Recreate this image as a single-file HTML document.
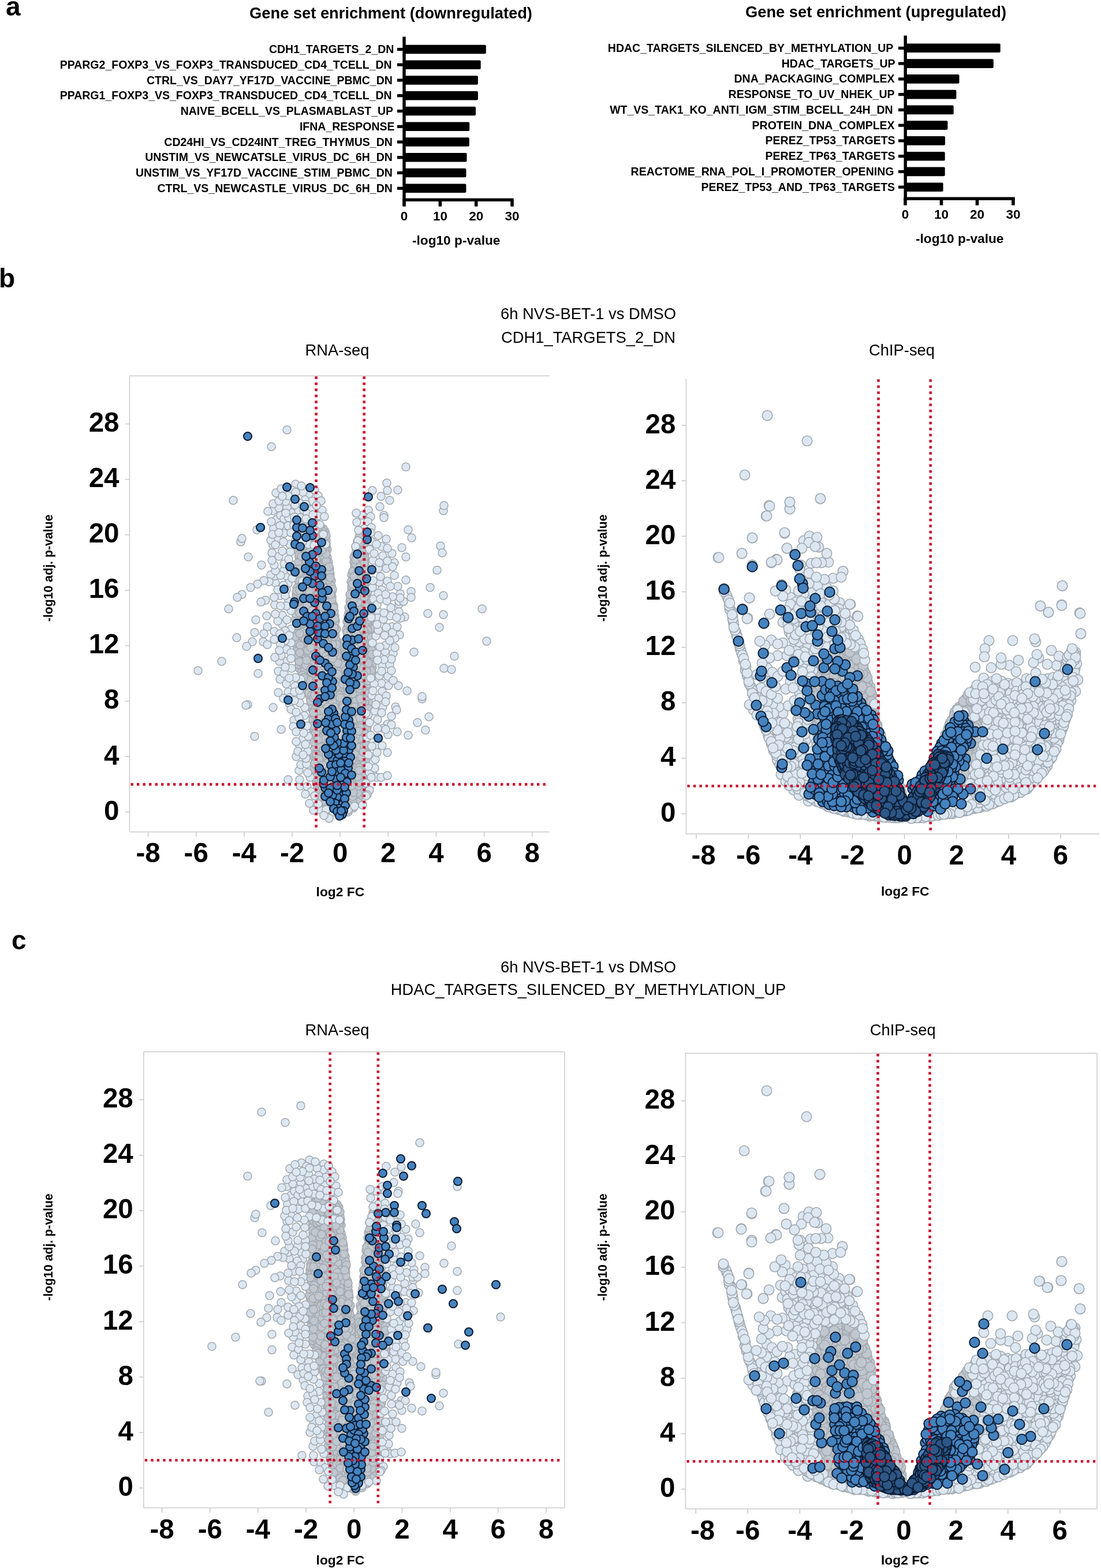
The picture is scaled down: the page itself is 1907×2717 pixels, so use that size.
<!DOCTYPE html>
<html><head><meta charset="utf-8"><title>Figure</title><style>html,body{margin:0;padding:0;background:#fff;width:1907px;height:2717px;overflow:hidden}</style></head><body>
<svg xmlns="http://www.w3.org/2000/svg" width="1907" height="2717" viewBox="0 0 1907 2717" style="display:block">
<style>
text{font-family:'Liberation Sans',Arial,sans-serif;fill:#000}
.lab{font-weight:bold;font-size:19.5px}
.tl{font-weight:bold;font-size:22.5px}
.ttl{font-weight:bold;font-size:27.3px}
.xl{font-weight:bold;font-size:22.7px}
.pl{font-weight:bold;font-size:46px}
.st{font-size:27.35px}
.vt{font-weight:bold;font-size:47.5px}
.ax{font-weight:bold;font-size:21.3px}
.ax2{font-weight:bold;font-size:22.8px}
</style>
<rect width="100%" height="100%" fill="#fff"/>
<defs>
<marker id="mLr" markerUnits="userSpaceOnUse" markerWidth="20" markerHeight="20" refX="10" refY="10" overflow="visible"><circle cx="10" cy="10" r="7" fill="#dce7f2" stroke="#a0a7ae" stroke-width="1.5"/></marker>
<marker id="mGr" markerUnits="userSpaceOnUse" markerWidth="20" markerHeight="20" refX="10" refY="10" overflow="visible"><circle cx="10" cy="10" r="7" fill="#c0c7cf" stroke="#a2a8ae" stroke-width="1.5"/></marker>
<marker id="mDr" markerUnits="userSpaceOnUse" markerWidth="20" markerHeight="20" refX="10" refY="10" overflow="visible"><circle cx="10" cy="10" r="7" fill="#4583bf" stroke="#0b1c33" stroke-width="2"/></marker>
<marker id="mNr" markerUnits="userSpaceOnUse" markerWidth="20" markerHeight="20" refX="10" refY="10" overflow="visible"><circle cx="10" cy="10" r="7" fill="#2d5786" stroke="#0b1c33" stroke-width="2"/></marker>
<marker id="mLc" markerUnits="userSpaceOnUse" markerWidth="23.4" markerHeight="23.4" refX="11.7" refY="11.7" overflow="visible"><circle cx="11.7" cy="11.7" r="8.7" fill="#dce7f2" stroke="#a0a7ae" stroke-width="1.5"/></marker>
<marker id="mGc" markerUnits="userSpaceOnUse" markerWidth="23.4" markerHeight="23.4" refX="11.7" refY="11.7" overflow="visible"><circle cx="11.7" cy="11.7" r="8.7" fill="#c0c7cf" stroke="#a2a8ae" stroke-width="1.5"/></marker>
<marker id="mDc" markerUnits="userSpaceOnUse" markerWidth="23.4" markerHeight="23.4" refX="11.7" refY="11.7" overflow="visible"><circle cx="11.7" cy="11.7" r="8.7" fill="#4583bf" stroke="#0b1c33" stroke-width="2"/></marker>
<marker id="mNc" markerUnits="userSpaceOnUse" markerWidth="23.4" markerHeight="23.4" refX="11.7" refY="11.7" overflow="visible"><circle cx="11.7" cy="11.7" r="8.7" fill="#2d5786" stroke="#0b1c33" stroke-width="2"/></marker>
</defs>
<rect x="700.0" y="77.7" width="141.8" height="15.6" rx="2" fill="#000"/>
<rect x="688.0" y="82.9" width="12.0" height="5.2" fill="#000"/>
<text x="682.3" y="92.0" text-anchor="end" class="lab">CDH1_TARGETS_2_DN</text>
<rect x="700.0" y="104.4" width="132.7" height="15.6" rx="2" fill="#000"/>
<rect x="688.0" y="109.6" width="12.0" height="5.2" fill="#000"/>
<text x="678.7" y="118.7" text-anchor="end" class="lab">PPARG2_FOXP3_VS_FOXP3_TRANSDUCED_CD4_TCELL_DN</text>
<rect x="700.0" y="131.2" width="127.9" height="15.6" rx="2" fill="#000"/>
<rect x="688.0" y="136.4" width="12.0" height="5.2" fill="#000"/>
<text x="679.9" y="145.5" text-anchor="end" class="lab">CTRL_VS_DAY7_YF17D_VACCINE_PBMC_DN</text>
<rect x="700.0" y="157.9" width="127.9" height="15.6" rx="2" fill="#000"/>
<rect x="688.0" y="163.1" width="12.0" height="5.2" fill="#000"/>
<text x="678.7" y="172.2" text-anchor="end" class="lab">PPARG1_FOXP3_VS_FOXP3_TRANSDUCED_CD4_TCELL_DN</text>
<rect x="700.0" y="184.7" width="124.0" height="15.6" rx="2" fill="#000"/>
<rect x="688.0" y="189.9" width="12.0" height="5.2" fill="#000"/>
<text x="681.1" y="199.0" text-anchor="end" class="lab">NAIVE_BCELL_VS_PLASMABLAST_UP</text>
<rect x="700.0" y="211.4" width="113.2" height="15.6" rx="2" fill="#000"/>
<rect x="688.0" y="216.7" width="12.0" height="5.2" fill="#000"/>
<text x="683.6" y="225.8" text-anchor="end" class="lab">IFNA_RESPONSE</text>
<rect x="700.0" y="238.2" width="112.8" height="15.6" rx="2" fill="#000"/>
<rect x="688.0" y="243.4" width="12.0" height="5.2" fill="#000"/>
<text x="679.9" y="252.5" text-anchor="end" class="lab">CD24HI_VS_CD24INT_TREG_THYMUS_DN</text>
<rect x="700.0" y="265.0" width="108.5" height="15.6" rx="2" fill="#000"/>
<rect x="688.0" y="270.2" width="12.0" height="5.2" fill="#000"/>
<text x="679.9" y="279.3" text-anchor="end" class="lab">UNSTIM_VS_NEWCATSLE_VIRUS_DC_6H_DN</text>
<rect x="700.0" y="291.7" width="107.4" height="15.6" rx="2" fill="#000"/>
<rect x="688.0" y="296.9" width="12.0" height="5.2" fill="#000"/>
<text x="679.9" y="306.0" text-anchor="end" class="lab">UNSTIM_VS_YF17D_VACCINE_STIM_PBMC_DN</text>
<rect x="700.0" y="318.5" width="107.4" height="15.6" rx="2" fill="#000"/>
<rect x="688.0" y="323.7" width="12.0" height="5.2" fill="#000"/>
<text x="679.9" y="332.8" text-anchor="end" class="lab">CTRL_VS_NEWCASTLE_VIRUS_DC_6H_DN</text>
<rect x="697.3" y="63.6" width="5.4" height="285.4" fill="#000"/>
<rect x="697.3" y="343.6" width="192.3" height="5.4" fill="#000"/>
<rect x="697.2" y="346.3" width="5.6" height="11.5" fill="#000"/>
<text x="700.0" y="381.6" text-anchor="middle" class="tl">0</text>
<rect x="759.6" y="346.3" width="5.6" height="11.5" fill="#000"/>
<text x="762.4" y="381.6" text-anchor="middle" class="tl">10</text>
<rect x="821.9" y="346.3" width="5.6" height="11.5" fill="#000"/>
<text x="824.7" y="381.6" text-anchor="middle" class="tl">20</text>
<rect x="884.2" y="346.3" width="5.6" height="11.5" fill="#000"/>
<text x="887.0" y="381.6" text-anchor="middle" class="tl">30</text>
<text x="677.0" y="32.3" text-anchor="middle" class="ttl">Gene set enrichment (downregulated)</text>
<text x="790.2" y="424.3" text-anchor="middle" class="xl">-log10 p-value</text>
<rect x="1568.2" y="75.5" width="164.5" height="15.6" rx="2" fill="#000"/>
<rect x="1556.0" y="80.8" width="12.2" height="5.2" fill="#000"/>
<text x="1547.3" y="89.8" text-anchor="end" class="lab">HDAC_TARGETS_SILENCED_BY_METHYLATION_UP</text>
<rect x="1568.2" y="102.3" width="152.6" height="15.6" rx="2" fill="#000"/>
<rect x="1556.0" y="107.5" width="12.2" height="5.2" fill="#000"/>
<text x="1550.6" y="116.6" text-anchor="end" class="lab">HDAC_TARGETS_UP</text>
<rect x="1568.2" y="129.1" width="93.3" height="15.6" rx="2" fill="#000"/>
<rect x="1556.0" y="134.3" width="12.2" height="5.2" fill="#000"/>
<text x="1549.6" y="143.4" text-anchor="end" class="lab">DNA_PACKAGING_COMPLEX</text>
<rect x="1568.2" y="155.8" width="88.2" height="15.6" rx="2" fill="#000"/>
<rect x="1556.0" y="161.0" width="12.2" height="5.2" fill="#000"/>
<text x="1549.5" y="170.1" text-anchor="end" class="lab">RESPONSE_TO_UV_NHEK_UP</text>
<rect x="1568.2" y="182.6" width="83.5" height="15.6" rx="2" fill="#000"/>
<rect x="1556.0" y="187.8" width="12.2" height="5.2" fill="#000"/>
<text x="1546.7" y="196.9" text-anchor="end" class="lab">WT_VS_TAK1_KO_ANTI_IGM_STIM_BCELL_24H_DN</text>
<rect x="1568.2" y="209.3" width="73.2" height="15.6" rx="2" fill="#000"/>
<rect x="1556.0" y="214.6" width="12.2" height="5.2" fill="#000"/>
<text x="1549.6" y="223.7" text-anchor="end" class="lab">PROTEIN_DNA_COMPLEX</text>
<rect x="1568.2" y="236.1" width="68.8" height="15.6" rx="2" fill="#000"/>
<rect x="1556.0" y="241.3" width="12.2" height="5.2" fill="#000"/>
<text x="1550.6" y="250.4" text-anchor="end" class="lab">PEREZ_TP53_TARGETS</text>
<rect x="1568.2" y="262.9" width="68.5" height="15.6" rx="2" fill="#000"/>
<rect x="1556.0" y="268.1" width="12.2" height="5.2" fill="#000"/>
<text x="1550.6" y="277.2" text-anchor="end" class="lab">PEREZ_TP63_TARGETS</text>
<rect x="1568.2" y="289.6" width="68.5" height="15.6" rx="2" fill="#000"/>
<rect x="1556.0" y="294.8" width="12.2" height="5.2" fill="#000"/>
<text x="1548.4" y="303.9" text-anchor="end" class="lab">REACTOME_RNA_POL_I_PROMOTER_OPENING</text>
<rect x="1568.2" y="316.4" width="65.4" height="15.6" rx="2" fill="#000"/>
<rect x="1556.0" y="321.6" width="12.2" height="5.2" fill="#000"/>
<text x="1550.1" y="330.7" text-anchor="end" class="lab">PEREZ_TP53_AND_TP63_TARGETS</text>
<rect x="1565.5" y="61.6" width="5.4" height="285.3" fill="#000"/>
<rect x="1565.5" y="341.5" width="192.2" height="5.4" fill="#000"/>
<rect x="1565.2" y="344.2" width="5.6" height="11.5" fill="#000"/>
<text x="1568.0" y="379.1" text-anchor="middle" class="tl">0</text>
<rect x="1627.7" y="344.2" width="5.6" height="11.5" fill="#000"/>
<text x="1630.5" y="379.1" text-anchor="middle" class="tl">10</text>
<rect x="1689.7" y="344.2" width="5.6" height="11.5" fill="#000"/>
<text x="1692.5" y="379.1" text-anchor="middle" class="tl">20</text>
<rect x="1752.1" y="344.2" width="5.6" height="11.5" fill="#000"/>
<text x="1754.9" y="379.1" text-anchor="middle" class="tl">30</text>
<text x="1517.0" y="29.8" text-anchor="middle" class="ttl">Gene set enrichment (upregulated)</text>
<text x="1662.2" y="421.0" text-anchor="middle" class="xl">-log10 p-value</text>
<text x="10" y="27" class="pl">a</text>
<text x="-2" y="498" class="pl">b</text>
<text x="20" y="1644.5" class="pl">c</text>
<text x="1019" y="552.9" text-anchor="middle" class="st">6h NVS-BET-1 vs DMSO</text>
<text x="1019" y="593.8" text-anchor="middle" class="st">CDH1_TARGETS_2_DN</text>
<text x="1019" y="1684.7" text-anchor="middle" class="st">6h NVS-BET-1 vs DMSO</text>
<text x="1019" y="1723.8" text-anchor="middle" class="st">HDAC_TARGETS_SILENCED_BY_METHYLATION_UP</text>
<line x1="224.5" y1="651.3" x2="224.5" y2="1441.4" stroke="#d6d6d6" stroke-width="2"/>
<line x1="224.5" y1="1441.4" x2="951.8" y2="1441.4" stroke="#d6d6d6" stroke-width="2"/>
<line x1="224.5" y1="651.3" x2="951.8" y2="651.3" stroke="#d6d6d6" stroke-width="2"/>
<line x1="216.5" y1="1407.1" x2="224.5" y2="1407.1" stroke="#c8c8c8" stroke-width="1.5"/>
<text x="206.5" y="1420.6" text-anchor="end" class="vt">0</text>
<line x1="216.5" y1="1311.0" x2="224.5" y2="1311.0" stroke="#c8c8c8" stroke-width="1.5"/>
<text x="206.5" y="1324.5" text-anchor="end" class="vt">4</text>
<line x1="216.5" y1="1214.9" x2="224.5" y2="1214.9" stroke="#c8c8c8" stroke-width="1.5"/>
<text x="206.5" y="1228.4" text-anchor="end" class="vt">8</text>
<line x1="216.5" y1="1118.9" x2="224.5" y2="1118.9" stroke="#c8c8c8" stroke-width="1.5"/>
<text x="206.5" y="1132.4" text-anchor="end" class="vt">12</text>
<line x1="216.5" y1="1022.8" x2="224.5" y2="1022.8" stroke="#c8c8c8" stroke-width="1.5"/>
<text x="206.5" y="1036.3" text-anchor="end" class="vt">16</text>
<line x1="216.5" y1="926.7" x2="224.5" y2="926.7" stroke="#c8c8c8" stroke-width="1.5"/>
<text x="206.5" y="940.2" text-anchor="end" class="vt">20</text>
<line x1="216.5" y1="830.6" x2="224.5" y2="830.6" stroke="#c8c8c8" stroke-width="1.5"/>
<text x="206.5" y="844.1" text-anchor="end" class="vt">24</text>
<line x1="216.5" y1="734.5" x2="224.5" y2="734.5" stroke="#c8c8c8" stroke-width="1.5"/>
<text x="206.5" y="748.0" text-anchor="end" class="vt">28</text>
<line x1="256.6" y1="1441.4" x2="256.6" y2="1449.9" stroke="#c8c8c8" stroke-width="1.5"/>
<text x="256.6" y="1494.4" text-anchor="middle" class="vt">-8</text>
<line x1="339.7" y1="1441.4" x2="339.7" y2="1449.9" stroke="#c8c8c8" stroke-width="1.5"/>
<text x="339.7" y="1494.4" text-anchor="middle" class="vt">-6</text>
<line x1="422.9" y1="1441.4" x2="422.9" y2="1449.9" stroke="#c8c8c8" stroke-width="1.5"/>
<text x="422.9" y="1494.4" text-anchor="middle" class="vt">-4</text>
<line x1="506.0" y1="1441.4" x2="506.0" y2="1449.9" stroke="#c8c8c8" stroke-width="1.5"/>
<text x="506.0" y="1494.4" text-anchor="middle" class="vt">-2</text>
<line x1="589.1" y1="1441.4" x2="589.1" y2="1449.9" stroke="#c8c8c8" stroke-width="1.5"/>
<text x="589.1" y="1494.4" text-anchor="middle" class="vt">0</text>
<line x1="672.3" y1="1441.4" x2="672.3" y2="1449.9" stroke="#c8c8c8" stroke-width="1.5"/>
<text x="672.3" y="1494.4" text-anchor="middle" class="vt">2</text>
<line x1="755.4" y1="1441.4" x2="755.4" y2="1449.9" stroke="#c8c8c8" stroke-width="1.5"/>
<text x="755.4" y="1494.4" text-anchor="middle" class="vt">4</text>
<line x1="838.6" y1="1441.4" x2="838.6" y2="1449.9" stroke="#c8c8c8" stroke-width="1.5"/>
<text x="838.6" y="1494.4" text-anchor="middle" class="vt">6</text>
<line x1="921.7" y1="1441.4" x2="921.7" y2="1449.9" stroke="#c8c8c8" stroke-width="1.5"/>
<text x="921.7" y="1494.4" text-anchor="middle" class="vt">8</text>
<text transform="translate(90.7,984.4) rotate(-90)" text-anchor="middle" class="ax">-log10 adj. p-value</text>
<text x="589.4" y="1552.6" text-anchor="middle" class="ax2">log2 FC</text>
<text x="584" y="615.7" text-anchor="middle" class="st">RNA-seq</text>
<path d="M560 1356 609 1142 528 1043 523 1157 541 1145 533 1171 627 1171 644 1109 578 1272 569 1069 622 1064 527 1067 552 1082 629 1367 612 1159 600 1108 634 1336 552 983 621 1118 584 1111 541 1064 618 1316 631 1221 562 939 623 995 607 1046 613 1128 622 1230 580 1113 567 1174 543 904 535 1080 575 1067 513 1057 619 981 577 1063 558 1235 524 1089 558 1371 581 1404 631 1282 557 1258 624 1060 564 1129 580 1298 541 1230 589 1294 577 1126 549 1295 572 1072 560 927 565 1395 633 1061 621 1200 562 1348 550 1044 545 1343 633 1311 557 1014 543 944 555 977 617 1182 532 1071 571 1021 607 1321 549 922 569 1156 581 1340 575 1266 580 1239 555 1194 537 920 627 1101 564 1009 624 1300 626 1222 598 1352 619 1211 637 1139 639 1163 555 1177 520 926 603 1125 519 978 627 1010 554 1189 584 1299 604 1062 634 1145 562 1150 531 1149 635 1197 525 1178 618 1233 595 1309 630 1235 539 935 540 1026 605 1283 585 1303 566 979 544 1077 526 1139 596 1322 548 1159 609 1395 598 1341 611 1137 557 967 519 1028 571 1274 555 1055 548 1264 562 1085 553 1002 586 1402 609 1246 569 1012 572 1202 568 1326 611 1308 629 1231 514 1118 528 1088 607 1173 609 996 584 1235 541 1226 643 1186 602 1233 582 1171 592 1393 624 1308 581 1100 532 1084 627 952 605 1391 545 1081 546 1154 612 1181 513 1029 513 1034 553 1206 560 1389 548 1190 636 1155 630 1120 613 1152 589 1394 524 1045 601 1238 596 1407 590 1402 567 1105 614 1057 616 1220 634 1017 603 1161 615 1210 624 1020 605 1099 543 1179 566 1094 606 1261 579 1348 614 1296 625 1048 602 1087 544 926 597 1262 578 1153 522 1065 609 1312 586 1323 637 1034 556 1323 629 1263 559 944 577 1393 636 1066 616 1080 551 1287 560 1375 558 1123 585 1154 518 1014 618 1261 562 1210 523 921 611 1327 615 1344 625 987 616 1382 528 1006 556 1385 622 1223 562 1177 602 1209 614 1075 645 1157 565 1028 530 1037 563 1277 552 1350 589 1236 627 1330 560 949 627 1153 580 1067 619 1135 559 1310 637 1250 593 1210 567 966 561 1062 543 1000 617 1324 632 1307 602 1348 644 1147 552 1123 630 947 593 1319 538 907 603 1278 584 1141 567 952 573 1399 625 1139 594 1201 557 1065 530 910 620 1207 531 903 618 1167 531 1131 530 1079 620 957 624 958 604 1152 580 1229 563 1124 522 1013 526 1058 604 1091 569 1056 581 1107 563 1000 571 1386 522 1008 573 1134 532 977 574 1320 559 997 589 1214 554 970 584 1370 585 1273 554 1360 634 1087 576 1310 551 1331 642 1122 626 1284 524 913 516 947 600 1258 590 1254 636 1273 608 1349 621 1157 546 937 611 1214 625 972 518 1010 569 1264 525 971 569 1063 616 1199 631 1125 548 1183 633 1151 598 1157 571 1351 547 1025 526 927 582 1196 599 1246 561 1361 581 1209 550 1113 624 1148 577 1254 539 1107 589 1314 632 960 543 1138 552 1058 517 1043 533 959 516 1066 521 1142 640 1144 635 1170 567 1122 539 960 590 1372 562 984 571 1085 576 1365 613 974 543 1160 557 987 522 1080 598 1229 633 1174 640 1159 598 1141 550 928 628 1115 578 1049 606 1185 547 1130 517 936 625 1276 546 1303 563 921 609 1344 571 1232 555 1354 604 1403 592 1413 548 1357 569 1251 521 1002 573 1375 611 1082 602 1272 555 1068 541 1183 637 1096 563 1206 628 1017 605 1335 518 1036 601 1314 595 1163 624 1341 599 1214 610 1333 611 1100 536 1185 612 1321 551 1223 610 1105 547 1248 621 977 622 934 543 1281 567 1047 539 1194 633 981 629 1148 643 1140 624 1043 566 1015 545 1021 584 1214 516 1094 561 1117 587 1337 571 986 594 1326 527 992 523 954 559 1197 537 1142 587 1286 621 1379 555 1340 635 1123 570 1344 639 1135 544 1174 544 974 612 1384 592 1310 598 1318 542 1251 625 1207 609 1150 591 1379 550 1363 518 997 633 1027 615 1392 525 1101 553 1367 628 1045 568 1399 536 986 547 1337 637 1118 578 1176 605 1311 547 1086 628 1192 589 1349 614 1133 567 1335 600 1172 619 964 538 1210 542 1242 638 1048 540 1188 612 1003 560 1319 535 951 607 1385 564 1242 514 1019 570 1147 551 1342 631 1179 586 1361 557 1348 574 1260 630 1076 608 1008 593 1276 560 916 557 1113 566 1362 577 1210 557 1059 598 1147 617 1130 577 1204 616 1228 597 1392 617 1191 616 1141 616 1350 611 1268 616 1335 566 1168 567 1210 534 991 560 1068 543 1105 519 1159 549 1077 553 1050 563 1024 562 968 582 1252 591 1283 582 1334 524 1075 623 1122 547 1069 539 1035 525 1018 591 1341 624 946 562 1048 580 1328 609 1023 558 1276 561 1182 518 965 578 1148 532 1096 563 1290 633 1190 579 1316 642 1094 585 1175 513 1088 549 1242 621 1326 601 1129 579 1320 541 948 579 1121 594 1195 555 1035 538 965 556 935 572 1237 533 1009 623 1113 607 1135 554 1136 641 1076 598 1194 532 1042 644 1179 519 919 587 1159 546 1125 559 1352 565 1164 583 1243 549 1022 559 1079 528 999 630 1022 545 996 571 1037 560 1231 543 913 536 1067 518 1152 531 1140 590 1279 558 1143 627 976 541 1124 565 946 611 1042 540 1077 638 1107 605 1109 551 1371 524 1130 580 1377 618 1084 530 1195 546 948 585 1126 579 1278 596 1313 588 1355 568 1312 520 1019 604 1296 556 1287 606 1077 535 1137 631 1275 630 1340 571 1303 575 1325 553 1143 620 969 600 1091 572 1390 557 1097 538 1169 567 1021 524 1120 535 938 634 1303 603 1147 619 1289 542 1247 606 1369 535 1164 519 952 557 1313 558 972 634 1032 605 1169 546 1290 523 1112 621 1010 610 1367 627 1096 528 923 513 1078 600 1363 531 936 622 1304 641 1101 631 1200 525 1039 555 1018 533 942 636 1269 542 1012 526 1082 520 971 605 1315 578 1243 629 1050 583 1117 609 1053 627 1335 625 1037 528 932 546 1017 543 1268 577 1382 574 1250 567 1239 632 1254 596 1359 528 900 632 1158 521 1137 531 994 645 1151 554 1212 614 1195 563 1145 525 1151 611 1209 521 1070 627 1164 624 1128 552 1299 632 1183 580 1353 620 1090 582 1160 565 1329 640 1084 539 1111 600 1116 562 1202 525 1062 619 938 572 1309 515 1141 621 1350 619 1368 593 1291 626 1354 555 1127 617 1048 528 1047 528 1095 612 1239 540 1199 615 1376 617 952 535 1117 573 1362 528 980 629 1137 600 1388 585 1315 626 1004 598 1293 614 981 554 1306 608 1205 602 1264 564 1340 567 1234 588 1244 621 1103 603 1385 641 1069 630 1316 542 1031 633 1055 546 1278 633 1108 629 1030 570 1340 618 1282 541 1017 556 1118 605 1381 566 1275 600 1332 557 1270 629 1087 563 1294 528 917 533 924 633 1331 523 902 625 1105 563 952 603 1072 635 1244 574 1331 627 1320 636 1012 600 1184 593 1253 602 1102 574 1185 523 907 617 1147 615 1205 575 1107 576 1222 624 1178 565 942 632 1350 586 1193 623 1168 630 1245 584 1284 612 1068 625 1077 597 1272 543 953 552 1006 595 1169 614 1313 557 931 627 1272 533 1180 618 1354 617 1114 515 1122 525 1145 574 1149 630 1104 620 1107 642 1089 540 1082 554 1374 608 1289 595 1365 628 981 534 1034 631 1013 579 1096 622 1152 594 1190 594 1175 573 1079 599 1396 564 1315 629 968 534 1089 626 1055 606 1211 551 1232 588 1197 605 1250 596 1130 572 1060 633 1298 528 1116 622 952 617 1026 612 1289 558 1135 605 1267 527 1011 537 946 634 1203 556 1093 636 1260 541 939 571 1212 518 1108 581 1309 640 1172 584 1348 639 1131 598 1125 559 1039 633 1139 628 1359 634 1070 548 1253 593 1261 637 1040 558 1158 523 980 570 1042 618 1298 631 941 536 931 629 1205 627 1373 549 1102 615 1015 531 963 643 1118 529 1103 562 1056 541 993 601 1308 614 986 613 1176 555 927 551 1130 573 1053 597 1112 559 1344 520 1103 575 1229 626 1378 553 1101 625 1316 571 1180 575 1044 533 1122 538 1030 634 993 607 1275 577 1171 609 1226 522 985 514 1038 548 1207 568 1133 593 1370 640 1155 553 1266 528 1122 557 940 605 1115 583 1200 598 1198 555 1023 566 1255 565 1352 566 1051 627 1295 569 1281 610 1354 636 1083 523 990 621 1215 561 1172 620 1054 583 1355 584 1131 584 1224 538 1128 624 1369 627 1064 562 1092 581 1269 605 1221 607 1145 571 1104 546 1318 577 1389 621 1384 533 982 587 1183 529 1135 534 1014 544 1273 549 1118 580 1360 551 1270 569 1098 621 1163 572 995 618 1067 555 1226 537 1174 538 915 598 1374 542 1118 616 977 528 967 531 1056 594 1304 627 1253 580 1288 639 1126 642 1193 618 1340 543 1218 568 1348 610 1285 609 1302 584 1391 516 1052 595 1153 550 1218 531 1052 613 1117 620 1390 604 1256 629 1187 543 1262 548 1005 581 1076 609 1264 616 1272 574 1093 569 1151 595 1181 545 1239 530 1062 610 1123 600 1168 553 1173 527 959 525 1028 601 1220 548 1145 547 1258 569 1365 609 1255 578 1407 591 1306 574 1006 560 1332 543 1214 630 1040 542 1086 645 1166 644 1170 612 1275 593 1332 544 969 615 1110 559 1028 523 999 544 1312 623 1173 581 1181 545 1298 613 1170 520 1051 591 1328 581 1165 551 909 611 1063 547 1060 597 1204 555 915 619 1123 593 1299 556 1254 560 1109 633 1345 551 1197 620 1006 633 1047 584 1408 569 1027 555 998 543 1073 544 1286 607 1217 575 1025 564 1230 590 1258 575 1056 528 1183 554 1045 599 1286 591 1269 567 990 587 1164 560 1219 620 1029 569 1375 614 1051 629 1059 575 1034 549 1056 638 1191 617 1032 607 1233 637 1111 574 1015 605 1242 590 1319 573 1125 593 1268 555 1332 634 1326 552 1148 527 1033 610 1072 548 1353 576 1076 583 1189 634 1239 588 1222 606 1375 560 1139 619 997 524 975 620 1308 530 953 628 1000 621 1081 517 956 636 1235 559 1336 599 1241 542 1045 519 944 632 1322 616 1302 583 1261 553 945 564 1080 567 1089 640 1063 519 1125 607 1177 559 1366 542 1258 548 959 537 976 542 958 544 1307 575 1289 608 1157 553 1064 629 994 625 1202 533 1030 561 1017 643 1162 574 1276 516 975 566 1218 615 1267 630 955 612 1400 613 965 626 1363 595 1249 606 1238 620 1374 543 986 584 1135 552 941 616 959 558 1263 524 1107 564 1034 538 1073 601 1096 603 1156 577 1198 571 1294 622 1322 559 992 618 1174 614 1358 610 1031 627 1176 560 1247 626 1289 574 1405 633 971 625 1234 628 1241 613 1363 582 1324 607 1198 582 1205 553 961 615 1331 605 1364 617 1239 606 1042 515 1047 574 1380 631 1212 580 1081 534 1063 558 920 562 1225 589 1388 545 1094 529 1108 554 957 636 1213 621 1272 551 1169 523 1164 626 1158 583 1279 562 1286 576 1401 638 1185 608 1128 600 1281 553 1250 591 1324 572 1119 567 1111 585 1377 632 966 623 1143 523 942 548 1090 548 1314 560 978 630 1258 636 1221 598 1120 573 1163 565 1322 559 1130 580 1218 591 1361 597 1368 548 1064 611 1110 571 1113 610 1221 552 966 539 927 615 1008 553 1320 616 1103 611 1390 558 962 594 1233 619 1312 568 1075 575 1112 532 920 562 1005 595 1286 575 1340 584 1290 533 1113 579 1282 528 1128 587 1249 639 1217 633 1226 530 1018 534 1076 550 1037 608 1067 595 1388 561 1379 598 1401 579 1293 568 1245 520 1085 586 1257 632 1007 540 970 570 1216 552 1277 512 1109 577 1137 598 1346 543 1150 639 1054 532 1000 551 933 543 1195 574 1154 611 1251 533 1190 577 1190 525 1071 625 1238 634 1022 603 1180 557 1002 542 963 576 1344 546 1035 635 1160 516 1004 566 1203 544 1223 602 1194 598 1188 549 954 625 1072 546 990 573 1246 553 1088 627 1082 637 1078 588 1205 569 974 632 1216 581 1399 564 1259 632 1081 578 1161 604 1141 633 1114 518 961 603 1120 537 1096 565 936 566 1179 553 922 610 1077 600 1225 527 1166 612 1028 548 1097 579 1059 578 1103 584 1343 615 1250 615 1162 569 1221 642 1113 518 1146 625 1014 605 1307 558 1148 615 1306 550 1152 601 1077 580 1303 536 1206 539 1221 540 980 567 1188 565 986 638 1149 621 1074 546 1347 630 1068 634 1317 563 1237 573 1271 621 1237 578 1259 588 1366 586 1330 556 982 602 1370 623 1085 565 972 559 1046 531 930 550 1106 565 1357 547 942 625 1346 599 1304 552 1237 535 1019 560 957 563 994 535 1201 600 1325 609 1193 519 1091 580 1132 572 1356 603 1289 624 1024 531 1092 599 1133 587 1230 605 1227 574 1284 597 1380 513 1098 632 1286 625 1183 591 1333 583 1381 573 1169 602 1321 619 1187 532 1160 573 1242 514 1128 628 1109 633 1130 609 1114 576 1216 561 932 553 994 577 1233 615 1255 559 1240 558 1205 615 1216 610 1091 576 1165 576 1117 644 1127 556 1200 622 1099 557 1182 544 1333 563 1191 585 1397 586 1311 628 1196 559 1293 613 1046 635 1264 604 1396 613 1147 564 1071 546 1229 616 992 537 956 621 1295 592 1400 538 1049 583 1090 564 1155 554 1294 622 1280 567 1184 580 1248 536 1147 564 1367 552 1202 620 1036 537 901 584 1385 551 1030 547 1049 568 1081 602 1377 620 1095 547 1270 515 1084 552 1255 603 1352 569 1005 600 1357 608 1096 635 1164 616 1276 622 1000 637 1207 565 960 589 1408 552 1180 610 1295 594 1185 538 1215 577 1335 572 1139 628 932 551 1260 546 931 528 1160 530 1187 575 1100 530 1176 597 1208 609 1339 567 1225 550 1214 526 1053 595 1218 597 1177 569 1127 596 1238 572 1207 624 981 595 1280 625 1247 520 914 540 1205 566 1040 565 1137 603 1215 572 1089 602 1176 622 1257 552 989 568 996 594 1355 571 1049 548 1139 530 972 595 1350 556 1152 616 970 585 1168 633 1135 570 1329 617 1002 555 1231 607 1038 528 1024 547 965 524 1126 576 1021 637 1092 567 1143 538 1179 554 1156 563 1272 601 1336 562 1096 621 1362 569 1369 533 915 575 1039 629 1344 519 1074 635 1051 512 1073 602 1253 518 1079 542 1155 632 1249 517 1115 604 1053 585 1149 536 1004 623 1193 611 990 605 1328 545 1110 620 989 563 1264 566 1267 551 950 576 1141 612 1261 570 1256 567 1085 557 1074 628 937 626 1325 552 1326 580 1264 538 1008 617 1062 565 1382 630 1326 610 1317 623 1032 544 1114 543 920 537 996 614 1225 626 1312 558 1163 515 1134 614 1165 520 1056 594 1376 545 1039 523 1096 562 1385 579 1370 512 1063 626 1226 606 1357 558 1008 562 1159 543 1209 564 1304 549 975 624 1188 522 934 603 1067 555 1110 512 1103 611 1380 571 991 621 1016 529 986 591 1289 548 1308 536 1104 644 1134 633 1097 621 943 596 1384 628 963 546 917 539 1022 551 1093 609 1016 602 1137 548 1134 612 1373 555 1028 522 964 534 910 610 1057 539 1132 635 1231 622 1251 613 999 550 1015 579 1225 626 1119 635 1103 527 904 565 1390 519 1062 538 1088 541 1069 610 1164 617 1246 528 1075 568 1117 638 1059 602 1301 538 1151 627 1217 603 1203 560 1187 538 990 548 969 521 1032 629 987 630 1169 635 1279 560 1034 622 930 631 1355 575 1304 559 1303 518 986 533 968 545 1009 614 1284 600 1269 557 1168 585 1264 577 1357 548 1235 554 1078 536 1025 525 948 566 1299 520 1118 623 1244 548 1175 569 1198 524 1170 574 1370 622 1356 595 1337 550 998 609 1362 543 1099 554 1381 574 1130 608 1280 599 1161 562 1042 624 1211 605 1131 533 1127 631 1293 589 1209 573 1158 591 1301 624 965 591 1262 563 1113 575 1297 624 1068 611 1202 635 1291 519 1131 629 1303 517 993 625 1265 624 1261 565 1372 537 1042 570 982 573 1192 630 1269 565 1099 630 1092 554 1219 570 1393 614 1122 546 1199 555 1245 593 1344 634 988 556 1280 628 1133 573 1176 578 1053 613 1233 572 1001 573 1030 637 1074 575 1350 590 1383 620 1044 614 1021 553 1115 629 1142 595 1225 565 1060 550 1072 526 1174 631 1035 552 1315 610 1012 617 1153 548 1327 638 1228 545 1323 613 1038 543 1235 559 1103 544 1187 555 1041 643 1104 604 1083 563 1281 552 1336 597 1298 539 1102 568 1160 630 1072 622 1330 560 1299 603 1198 565 1066 561 1251 610 1189 514 1024 535 1156 529 945 569 1285 616 947 558 953 577 1374 579 1088 570 1299 536 1054 547 1171 606 1030 559 1215 637 1025 624 1089 637 1180 569 1165 536 1059 624 1134 576 1180 546 980 557 1087 620 1346 546 910 548 905 543 1167 565 928 513 1043 545 1205 613 1094 617 1098 569 1290 551 1163 604 1342 624 940 580 1072 603 1407 579 1185 532 1048 612 1086 582 1367 566 1195 530 1153 607 1087 554 1185 622 1335 544 1052 634 1001 559 1052 539 1164 602 1189 594 1243 569 1318 559 1326 621 1267 546 1164 589 1274 565 1309 538 1122 531 1144 553 1011 527 940 517 930 539 1159 551 914 542 1091 551 1282 599 1276 541 1004 575 1314 519 1023 639 1201 619 1023 631 976 541 1058 519 1098" fill="none" stroke="none" marker-start="url(#mGr)" marker-mid="url(#mGr)" marker-end="url(#mGr)"/>
<path d="M479 900 489 1066 512 937 496 998 497 844 655 1060 636 1278 499 911 540 868 520 1362 504 1090 485 1032 640 952 485 1104 701 1069 681 1132 703 1005 757 988 654 1071 558 884 653 1132 537 846 631 916 640 1369 473 945 486 893 705 1197 473 885 694 1071 477 1010 660 860 480 935 627 893 475 998 688 1268 501 1219 651 1102 683 997 712 1025 723 1252 678 1241 478 854 419 1030 672 1273 650 1292 460 1040 554 941 485 1177 503 956 685 1225 525 1280 495 1146 661 947 535 856 516 886 677 1053 553 1403 663 963 656 1279 499 1011 527 1240 525 853 533 1302 638 1238 475 1108 504 888 577 1407 527 1035 645 1018 483 880 504 1058 671 1007 661 1184 843 1111 511 1189 474 916 545 849 484 1146 683 975 662 1292 693 1029 443 1074 519 1292 646 1342 565 1403 570 1418 564 943 520 897 620 937 763 946 603 1403 509 1248 482 1163 509 910 518 1335 665 893 664 1073 662 1153 504 1114 528 866 712 1035 534 943 500 1042 534 1276 528 1226 489 1082 646 971 657 1009 492 988 521 1205 496 1185 647 1038 663 1225 469 996 658 878 648 1185 441 1096 689 849 696 949 551 859 491 1014 512 839 532 1363 492 1167 676 1067 769 1158 657 1171 497 1074 466 1008 497 879 731 1211 543 1404 669 934 640 1339 662 1198 507 850 469 936 429 1221 494 1093 691 1047 667 1129 670 837 487 847 519 1351 640 1252 492 924 492 899 476 1048 642 1175 761 1087 521 1177 521 1325 645 1114 531 1324 717 1130 665 897 679 1086 768 885 492 977 659 999 485 911 499 1199 665 1062 512 1174 689 1016 671 1255 661 1022 463 1086 502 943 560 926 537 1347 668 1118 518 1244 496 1125 638 884 505 1158 445 918 457 1006 703 809 453 979 494 1110 648 959 655 1028 649 1232 504 1131 410 1105 491 1210 654 1247 664 1262 644 1205 675 1152 656 1210 643 938 551 1393 554 909 473 873 684 1122 655 985 628 1395 655 1092 692 1100 495 869 481 1076 561 1413 745 1018 502 1209 508 1259 703 965 655 928 684 1106 530 1314 500 897 551 894 462 1067 539 1372 524 1007 447 1140 506 1002 511 865 470 774 678 1256 658 1121 526 884 496 1050 741 1063 687 1230 707 1274 642 895 411 1035 673 1188 536 1392 483 868 672 1172 691 1042 472 926 690 1188 343 1162 679 959 513 1311 652 943 675 867 486 1117 473 1226 676 1016 510 896 496 1022 669 1087 494 1156 495 889 470 904 510 1199 699 1042 737 1265 768 1065 441 1276 512 853 669 1206 475 1094 536 923 483 964 731 1207 544 945 650 1316 519 1196 456 1112 766 958 638 1308 681 1179 636 1377 678 1142 504 1229 644 1293 680 1096 668 1264 657 975 487 1136 516 1302 384 1146 671 850 652 1347 504 978 743 1242 499 859 665 1143 651 1221 617 889 556 868 501 1101 513 1268 437 1112 645 850 653 1082 499 1351 634 1236 486 997 769 876 429 756 653 1048 489 955 618 905 643 1347 504 923 659 1038 487 1264 519 1218 668 1216 500 969 463 1117 545 1379 540 901 477 1064 484 1127 688 1086 476 1139 532 1258 835 1055 526 919 529 1376 642 1274 446 1012 671 972 477 989 477 944 539 883 491 939 464 886 457 1098 417 939 533 1339 644 989 654 1262 489 860 516 917 504 1141 782 1160 526 1270 693 1036 646 1197 520 872 616 947 530 874 494 1032 637 904 661 1235 675 1110 529 1290 614 1397 621 919 680 1034 430 965 646 1006 525 1308 532 890 654 1144 660 1347 671 950 511 875 634 1379 485 1098 643 914 521 1254 482 1200 452 1043 524 939 471 958 475 979 501 1175 427 1120 546 919 510 1214 504 989 497 745 691 1060 530 899 642 923 513 1285 669 985 513 1234 671 1344 713 932 687 1070 671 1304 649 1331 426 1222 661 1163 447 1167 396 1055 471 971 678 1162 452 914 475 1035 483 923 638 1328 522 842 670 1041 542 892 768 1032 562 895 404 867 668 1030 481 1022 666 1101 787 1137 486 1050 434 1018 548 876 634 1357 419 933 707 918 653 1304 643 1070 680 982" fill="none" stroke="none" marker-start="url(#mLr)" marker-mid="url(#mLr)" marker-end="url(#mLr)"/>
<path d="M610 1050 571 1081 576 1364 547 1137 545 998 613 1059 604 1300 557 987 581 1349 576 1315 576 1181 593 1352 541 928 451 914 550 1107 563 1196 595 1329 514 1080 541 906 636 935 541 1011 616 1186 569 1245 578 1371 550 954 566 1266 610 1109 601 1266 622 989 514 929 578 1236 619 1171 526 1059 492 1021 563 1365 603 1289 601 1107 537 919 541 961 584 1318 603 1331 598 1310 607 1141 447 1141 621 1107 511 991 573 1063 537 1094 601 1355 575 1229 623 1020 572 1366 547 1063 610 1089 532 1068 524 1188 572 1204 601 1118 590 1390 557 998 536 974 636 922 635 1003 569 1307 573 1326 560 1358 537 845 609 1267 537 1081 497 844 593 1374 587 1307 576 1130 563 1149 598 1177 595 1300 584 1381 604 1248 598 1242 597 1255 582 1300 619 1085 561 1352 595 1288 563 1380 560 1115 521 1255 489 1106 552 1096 558 1171 582 1325 600 1374 541 1068 626 1232 566 1050 499 1213 581 1392 530 964 588 1366 584 1337 510 1043 526 1076 537 990 582 1266 564 1297 604 1072 530 931 606 1257 429 756 526 1037 527 878 532 1007 619 960 568 1023 584 1287 615 1029 558 1037 606 1183 569 1174 554 1072 572 1346 554 1211 623 1076 601 1215 576 1378 511 943 594 1393 575 1255 609 1292 606 1068 638 861 597 1384 564 1252 557 940 569 1156 502 982 587 1401 591 1334 598 1340 524 1017 644 1054 607 1312 550 1085 547 981 542 1189 569 1122 545 1044 632 1024 597 1319 554 1144 598 1396 612 1156 581 1245 600 1137 578 1401 575 1164 609 1124 550 1217 569 1374 584 1252 604 1322 590 1359 579 1278 655 1279 563 1085 590 1347 600 1278 514 914 529 985 566 1183 558 1027 578 1292 616 1130 534 1109 573 1270 597 1364 606 1152 542 1161 619 1011 514 901 630 1063 524 915 584 1369 537 1037 572 1284 607 1279 557 1338 563 1207 572 1389 595 1405 600 1230 550 1254 509 1047 609 1233 569 1233 584 1361 593 1411 584 1406 553 1331 609 1343 563 1068 563 1098 588 1414 644 987 590 1322 511 865 610 1168 520 947 628 1127 606 1195 575 1337 603 1165 575 1192 554 1014 591 1405 616 1144 576 1098" fill="none" stroke="none" marker-start="url(#mDr)" marker-mid="url(#mDr)" marker-end="url(#mDr)"/>
<g stroke="#c8102e" stroke-width="4.6" stroke-dasharray="4.4 6.1">
<line x1="547.6" y1="652.3" x2="547.6" y2="1436.4"/>
<line x1="630.7" y1="652.3" x2="630.7" y2="1436.4"/>
<line x1="226.5" y1="1359.1" x2="949" y2="1359.1"/>
</g>
<line x1="1188.4" y1="656.3" x2="1188.4" y2="1445.0" stroke="#d6d6d6" stroke-width="2"/>
<line x1="1188.4" y1="1445.0" x2="1904" y2="1445.0" stroke="#d6d6d6" stroke-width="2"/>
<line x1="1180.4" y1="1410.1" x2="1188.4" y2="1410.1" stroke="#c8c8c8" stroke-width="1.5"/>
<text x="1170.4" y="1423.6" text-anchor="end" class="vt">0</text>
<line x1="1180.4" y1="1313.9" x2="1188.4" y2="1313.9" stroke="#c8c8c8" stroke-width="1.5"/>
<text x="1170.4" y="1327.4" text-anchor="end" class="vt">4</text>
<line x1="1180.4" y1="1217.8" x2="1188.4" y2="1217.8" stroke="#c8c8c8" stroke-width="1.5"/>
<text x="1170.4" y="1231.3" text-anchor="end" class="vt">8</text>
<line x1="1180.4" y1="1121.6" x2="1188.4" y2="1121.6" stroke="#c8c8c8" stroke-width="1.5"/>
<text x="1170.4" y="1135.1" text-anchor="end" class="vt">12</text>
<line x1="1180.4" y1="1025.5" x2="1188.4" y2="1025.5" stroke="#c8c8c8" stroke-width="1.5"/>
<text x="1170.4" y="1039.0" text-anchor="end" class="vt">16</text>
<line x1="1180.4" y1="929.3" x2="1188.4" y2="929.3" stroke="#c8c8c8" stroke-width="1.5"/>
<text x="1170.4" y="942.8" text-anchor="end" class="vt">20</text>
<line x1="1180.4" y1="833.1" x2="1188.4" y2="833.1" stroke="#c8c8c8" stroke-width="1.5"/>
<text x="1170.4" y="846.6" text-anchor="end" class="vt">24</text>
<line x1="1180.4" y1="737.0" x2="1188.4" y2="737.0" stroke="#c8c8c8" stroke-width="1.5"/>
<text x="1170.4" y="750.5" text-anchor="end" class="vt">28</text>
<line x1="1206.0" y1="1445.0" x2="1206.0" y2="1453.5" stroke="#c8c8c8" stroke-width="1.5"/>
<text x="1218.5" y="1498.0" text-anchor="middle" class="vt">-8</text>
<line x1="1296.2" y1="1445.0" x2="1296.2" y2="1453.5" stroke="#c8c8c8" stroke-width="1.5"/>
<text x="1296.2" y="1498.0" text-anchor="middle" class="vt">-6</text>
<line x1="1386.3" y1="1445.0" x2="1386.3" y2="1453.5" stroke="#c8c8c8" stroke-width="1.5"/>
<text x="1386.3" y="1498.0" text-anchor="middle" class="vt">-4</text>
<line x1="1476.5" y1="1445.0" x2="1476.5" y2="1453.5" stroke="#c8c8c8" stroke-width="1.5"/>
<text x="1476.5" y="1498.0" text-anchor="middle" class="vt">-2</text>
<line x1="1566.6" y1="1445.0" x2="1566.6" y2="1453.5" stroke="#c8c8c8" stroke-width="1.5"/>
<text x="1566.6" y="1498.0" text-anchor="middle" class="vt">0</text>
<line x1="1656.7" y1="1445.0" x2="1656.7" y2="1453.5" stroke="#c8c8c8" stroke-width="1.5"/>
<text x="1656.7" y="1498.0" text-anchor="middle" class="vt">2</text>
<line x1="1746.9" y1="1445.0" x2="1746.9" y2="1453.5" stroke="#c8c8c8" stroke-width="1.5"/>
<text x="1746.9" y="1498.0" text-anchor="middle" class="vt">4</text>
<line x1="1837.0" y1="1445.0" x2="1837.0" y2="1453.5" stroke="#c8c8c8" stroke-width="1.5"/>
<text x="1837.0" y="1498.0" text-anchor="middle" class="vt">6</text>
<text transform="translate(1050.7,984.4) rotate(-90)" text-anchor="middle" class="ax">-log10 adj. p-value</text>
<text x="1567.8" y="1551.5" text-anchor="middle" class="ax2">log2 FC</text>
<text x="1562" y="615.7" text-anchor="middle" class="st">ChIP-seq</text>
<path d="M1649 1351 1410 1253 1463 1183 1493 1184 1462 1321 1495 1238 1484 1298 1472 1233 1517 1285 1417 1157 1463 1288 1537 1329 1655 1300 1422 1195 1455 1316 1442 1305 1447 1203 1481 1327 1517 1402 1427 1327 1466 1285 1436 1143 1505 1397 1493 1218 1686 1296 1473 1134 1458 1178 1430 1131 1495 1179 1554 1362 1619 1352 1477 1374 1422 1346 1514 1311 1470 1318 1510 1267 1501 1376 1455 1226 1564 1409 1447 1338 1417 1213 1510 1401 1481 1343 1606 1368 1684 1253 1448 1322 1652 1295 1497 1382 1407 1205 1430 1378 1519 1256 1644 1386 1488 1303 1658 1229 1454 1254 1417 1226 1430 1365 1671 1246 1679 1312 1638 1399 1532 1387 1682 1224 1661 1321 1415 1329 1430 1276 1657 1350 1629 1401 1471 1225 1467 1265 1424 1234 1422 1286 1427 1165 1530 1326 1420 1293 1475 1317 1617 1397 1649 1344 1497 1324 1452 1360 1421 1150 1655 1355 1544 1389 1549 1340 1598 1384 1434 1192 1483 1135 1484 1315 1538 1387 1472 1207 1600 1406 1457 1369 1424 1130 1656 1255 1447 1302 1420 1230 1422 1275 1456 1245 1410 1284 1465 1274 1476 1195 1512 1247 1412 1191 1467 1213 1492 1293 1461 1367 1487 1138 1599 1391 1420 1141 1461 1237 1487 1290 1634 1359 1451 1139 1411 1168 1522 1332 1495 1222 1425 1141 1585 1409 1459 1125 1471 1293 1474 1343 1475 1150 1465 1393 1536 1382 1415 1163 1441 1358 1547 1384 1540 1334 1426 1362 1686 1310 1692 1213 1675 1349 1557 1406 1499 1217 1481 1164 1595 1403 1453 1355 1464 1279 1499 1312 1438 1178 1497 1194 1631 1374 1613 1347 1645 1301 1444 1263 1452 1208 1483 1245 1474 1397 1656 1263 1530 1313 1440 1171 1419 1351 1608 1357 1467 1228 1484 1270 1436 1267 1477 1200 1664 1358 1549 1376 1407 1211 1505 1353 1651 1358 1601 1400 1504 1206 1482 1174 1498 1253 1439 1271 1679 1327 1486 1236 1493 1354 1508 1208 1512 1351 1513 1356 1441 1343 1406 1240 1469 1185 1439 1276 1482 1386 1415 1291 1444 1325 1456 1381 1459 1121 1659 1234 1410 1292 1436 1290 1477 1211 1478 1360 1670 1304 1667 1229 1627 1343 1480 1207 1502 1268 1506 1369 1545 1330 1474 1302 1531 1380 1667 1276 1441 1353 1473 1200 1407 1263 1498 1298 1500 1405 1450 1127 1423 1183 1445 1180 1463 1340 1461 1308 1563 1385 1497 1347 1687 1241 1422 1304 1511 1295 1640 1329 1668 1340 1608 1374 1442 1151 1653 1252 1690 1267 1548 1352 1659 1249 1522 1268 1470 1141 1603 1411 1684 1247 1484 1211 1677 1301 1505 1311 1509 1334 1473 1187 1621 1377 1500 1285 1435 1148 1686 1269 1497 1331 1473 1354 1514 1316 1630 1327 1491 1373 1451 1249 1507 1378 1411 1222 1463 1256 1473 1125 1684 1291 1485 1395 1428 1266 1467 1168 1696 1271 1468 1163 1649 1389 1655 1314 1610 1396 1443 1176 1671 1264 1469 1258 1684 1324 1436 1376 1418 1299 1451 1145 1611 1381 1505 1316 1449 1333 1497 1394 1429 1145 1686 1275 1523 1300 1459 1343 1535 1376 1487 1387 1639 1286 1505 1341 1492 1312 1430 1200 1447 1166 1428 1374 1486 1367 1461 1245 1445 1392 1532 1293 1515 1392 1507 1327 1526 1400 1480 1248 1481 1203 1662 1290 1625 1405 1529 1348 1600 1373 1522 1412 1455 1212 1423 1353 1635 1381 1542 1358 1485 1265 1521 1282 1491 1276 1488 1156 1445 1318 1432 1177 1505 1408 1661 1361 1530 1360 1651 1328 1418 1345 1509 1323 1481 1364 1469 1269 1464 1189 1433 1355 1485 1229 1407 1185 1501 1355 1425 1262 1622 1317 1442 1300 1482 1304 1456 1236 1455 1290 1646 1253 1430 1209 1409 1277 1502 1306 1431 1360 1494 1283 1445 1367 1630 1363 1461 1137 1474 1322 1432 1372 1535 1336 1629 1338 1547 1404 1504 1220 1632 1314 1420 1199 1418 1268 1519 1347 1483 1158 1586 1393 1476 1161 1435 1227 1529 1340 1514 1336 1636 1377 1550 1414 1446 1347 1442 1329 1611 1364 1480 1283 1686 1219 1479 1169 1459 1146 1456 1250 1668 1329 1662 1225 1531 1406 1646 1369 1441 1216 1495 1320 1417 1187 1644 1258 1630 1395 1678 1276 1649 1260 1452 1321 1524 1390 1654 1234 1626 1357 1468 1177 1639 1280 1443 1252 1626 1384 1460 1349 1677 1240 1510 1204 1436 1262 1500 1411 1552 1383 1425 1229 1515 1243 1516 1381 1668 1299 1489 1150 1507 1234 1458 1375 1698 1231 1458 1207 1543 1407 1516 1331 1675 1259 1480 1333 1451 1299 1442 1138 1462 1266 1460 1187 1556 1416 1415 1318 1671 1289 1438 1386 1483 1149 1495 1289 1489 1162 1619 1371 1478 1183 1418 1168 1413 1158 1457 1258 1635 1281 1416 1338 1488 1178 1465 1379 1638 1386 1698 1252 1407 1248 1469 1338 1455 1387 1502 1393 1462 1388 1504 1323 1426 1249 1635 1289 1662 1303 1559 1412 1462 1359 1496 1174 1440 1281 1677 1215 1422 1318 1533 1346 1471 1379 1480 1146 1497 1245 1559 1377 1692 1219 1444 1279 1497 1303 1477 1310 1414 1230 1478 1137 1423 1368 1426 1334 1467 1305 1490 1258 1693 1229 1450 1259 1653 1384 1667 1268 1476 1403 1469 1298 1499 1318 1639 1343 1698 1262 1519 1276 1486 1353 1437 1213 1664 1344 1662 1253 1440 1146 1621 1362 1673 1211 1427 1188 1656 1276 1464 1261 1452 1167 1447 1159 1439 1199 1657 1325 1641 1334 1544 1353 1467 1361 1524 1366 1650 1324 1492 1303 1679 1210 1431 1306 1526 1294 1534 1297 1409 1196 1636 1337 1440 1266 1506 1402 1695 1234 1431 1229 1542 1395 1528 1287 1476 1143 1476 1219 1493 1358 1563 1416 1443 1127 1466 1200 1651 1377 1434 1244 1470 1181 1444 1132 1516 1376 1486 1184 1483 1240 1452 1234 1497 1336 1444 1372 1691 1244 1462 1195 1684 1265 1485 1284 1422 1242 1664 1328 1690 1283 1484 1321 1422 1135 1503 1330 1514 1234 1415 1194 1426 1295 1559 1364 1642 1270 1441 1314 1472 1176 1492 1270 1555 1395 1448 1196 1613 1342 1674 1237 1694 1283 1687 1318 1510 1312 1467 1343 1536 1361 1561 1373 1461 1270 1482 1187 1642 1276 1675 1293 1545 1344 1694 1208 1599 1396 1621 1366 1443 1274 1431 1287 1457 1143 1437 1234 1466 1139 1512 1261 1621 1387 1456 1272 1500 1248 1411 1202 1433 1314 1475 1366 1613 1392 1650 1255 1487 1311 1665 1320 1429 1356 1466 1314 1406 1200 1660 1299 1449 1177 1434 1127 1460 1217 1417 1255 1472 1147 1618 1358 1603 1383 1450 1185 1504 1198 1649 1248 1463 1383 1441 1339 1680 1254 1463 1221 1477 1379 1538 1369 1650 1368 1518 1407 1587 1399 1616 1365 1540 1376 1512 1345 1678 1287 1447 1285 1651 1280 1466 1348 1502 1335 1459 1280 1475 1237 1510 1363 1477 1128 1495 1279 1485 1346 1482 1401 1436 1382 1672 1219 1519 1356 1469 1172 1465 1336 1459 1131 1667 1363 1519 1339 1445 1147 1686 1279 1680 1219 1511 1367 1506 1239 1644 1317 1509 1396 1537 1343 1452 1221 1511 1275 1500 1203 1485 1218 1657 1378 1505 1213 1469 1250 1451 1294 1533 1332 1456 1182 1510 1318 1564 1404 1635 1318 1574 1415 1687 1214 1467 1385 1665 1333 1590 1416 1590 1391 1466 1208 1508 1228 1458 1160 1459 1391 1463 1164 1450 1328 1542 1365 1551 1409 1460 1275 1448 1397 1620 1322 1635 1308 1638 1366 1486 1373 1695 1266 1623 1332 1659 1316 1700 1257 1464 1372 1619 1335 1700 1247 1457 1337 1623 1400 1433 1320 1515 1267 1451 1346 1607 1409 1476 1204 1594 1408 1642 1293 1514 1301 1430 1214 1481 1287 1694 1250 1480 1278 1495 1376 1451 1367 1433 1163 1422 1164 1472 1281 1646 1376 1641 1381 1438 1159 1630 1346 1408 1271 1553 1354 1417 1333 1680 1249 1446 1312 1497 1259 1467 1148 1503 1263 1427 1345 1667 1249 1462 1143 1489 1319 1442 1381 1431 1204 1672 1354 1688 1224 1418 1325 1490 1230 1694 1295 1645 1341 1439 1365 1500 1401 1670 1321 1535 1302 1537 1414 1422 1337 1429 1150 1677 1246 1456 1149 1506 1275 1450 1132 1443 1231 1490 1298 1461 1315 1518 1321 1407 1258 1676 1323 1453 1173 1480 1215 1535 1393 1437 1284 1510 1339 1406 1216 1413 1263 1497 1308 1480 1229 1466 1293 1514 1323 1578 1411 1518 1316 1594 1413 1467 1220 1458 1355 1539 1404 1454 1217 1605 1379 1434 1295 1492 1199 1448 1378 1511 1304 1647 1313 1599 1379 1593 1382 1495 1265 1427 1369 1406 1227 1507 1190 1672 1275 1662 1284 1529 1302 1585 1415 1524 1395 1618 1330 1504 1373 1664 1367 1462 1168 1617 1403 1439 1133 1663 1272 1589 1406 1494 1249 1454 1134 1526 1282 1424 1146 1486 1203 1478 1254 1434 1170 1524 1321 1482 1233 1451 1245 1418 1146 1479 1154 1642 1265 1594 1387 1667 1224 1602 1367 1560 1402 1643 1350 1547 1335 1552 1373 1487 1145 1470 1392 1430 1261 1501 1344 1681 1242 1477 1348 1621 1408 1628 1316 1679 1339 1670 1346 1471 1347 1440 1190 1496 1161 1463 1353 1485 1279 1475 1284 1532 1370 1455 1394 1696 1221 1449 1151 1660 1341 1647 1295 1462 1330 1436 1138 1533 1411 1439 1370 1427 1340 1659 1266 1689 1249 1626 1363 1671 1241 1484 1337 1468 1132 1654 1319 1465 1159 1436 1218 1624 1347 1440 1326 1624 1337 1515 1360 1626 1375 1421 1330 1421 1309 1414 1271 1490 1344 1463 1205 1437 1306 1489 1246 1660 1371 1438 1334 1527 1411 1647 1382 1513 1327 1446 1216 1491 1390 1661 1294 1542 1326 1469 1193 1414 1301 1655 1336 1433 1223 1480 1317 1477 1232 1681 1202 1550 1394 1686 1230 1699 1217 1407 1232 1472 1264 1459 1399 1628 1332 1507 1306 1449 1253 1435 1250 1453 1154 1491 1323 1490 1287 1435 1326 1618 1381 1459 1231 1489 1207 1429 1318 1452 1375 1439 1128 1680 1317 1618 1411 1471 1329 1492 1213 1439 1258 1625 1306 1486 1307 1455 1201 1680 1305 1672 1231 1470 1157 1413 1215 1491 1385 1511 1378 1475 1338 1527 1383 1490 1266 1650 1299 1459 1199 1699 1239 1508 1221 1542 1348 1550 1388 1551 1345 1410 1267 1493 1399 1456 1195 1493 1403 1550 1357 1411 1306 1689 1237 1667 1283 1689 1303 1651 1340 1430 1219 1499 1167 1505 1387 1514 1371 1455 1299 1508 1252 1484 1223 1670 1358 1464 1125 1491 1174 1439 1244 1519 1260 1487 1190 1470 1357 1452 1240 1472 1254 1659 1240 1644 1395 1649 1317 1638 1392 1449 1308 1460 1212 1671 1325 1428 1180 1527 1333 1699 1225 1695 1287 1492 1234 1423 1281 1612 1408 1472 1214 1526 1316 1515 1251 1627 1391 1502 1382 1416 1248 1665 1259 1526 1310 1557 1385 1503 1182 1657 1285 1535 1313 1498 1186 1437 1349 1636 1347 1530 1391 1458 1293 1487 1172 1438 1205 1636 1372 1677 1226 1453 1189 1657 1270 1638 1323 1669 1215 1519 1298 1508 1282 1512 1286 1421 1237 1625 1320 1489 1378 1422 1253 1421 1174 1641 1376 1444 1197 1652 1305 1514 1279 1475 1228 1545 1379 1414 1258 1503 1280 1444 1385 1414 1313 1677 1343 1656 1330 1415 1279 1655 1245 1454 1124 1510 1389 1511 1413 1425 1201 1531 1322 1538 1353 1512 1290 1445 1142 1431 1332 1591 1401 1518 1412 1618 1347 1606 1404 1481 1354 1518 1270 1684 1284 1645 1337 1448 1211 1429 1154 1654 1364 1489 1356 1688 1207 1623 1311 1457 1362 1431 1185 1412 1208 1436 1330 1450 1316 1523 1407 1632 1342 1541 1320 1444 1334 1605 1415 1683 1299 1658 1281 1491 1240 1467 1239 1540 1339 1429 1349 1644 1288 1533 1365 1522 1291 1641 1359 1623 1395 1504 1365 1471 1312 1406 1221 1414 1199 1683 1207 1677 1204 1606 1362 1441 1164 1522 1327 1656 1291 1489 1339 1484 1197 1419 1221 1502 1192 1471 1153 1452 1160 1673 1254 1424 1178 1514 1409 1630 1379 1468 1128 1470 1365 1694 1260 1420 1314 1427 1170 1491 1331 1525 1273 1475 1179 1634 1296 1627 1301 1474 1276 1432 1338 1474 1165 1475 1272 1478 1266 1417 1204 1504 1225 1630 1292 1693 1239 1582 1402 1625 1369 1684 1236 1682 1214 1459 1262 1664 1309 1429 1244 1481 1310 1649 1273 1432 1141 1489 1223 1520 1373 1691 1256 1484 1250 1543 1416 1662 1278 1546 1398 1492 1146 1466 1245 1435 1280 1514 1229 1616 1375 1469 1276 1429 1174 1681 1232 1412 1234 1520 1383 1454 1281 1451 1227 1457 1322 1474 1362 1640 1371 1683 1257 1539 1409 1652 1267 1484 1258 1454 1400 1446 1245 1446 1222 1666 1245 1446 1136 1447 1230 1675 1306 1614 1356 1652 1288 1427 1257 1516 1293 1480 1179 1487 1129 1500 1222 1445 1355 1451 1276 1506 1288 1425 1156 1500 1237 1594 1393 1510 1257 1477 1174 1634 1403 1534 1307 1414 1184 1519 1306 1533 1317 1529 1374 1479 1297 1646 1362 1483 1130 1608 1386 1502 1174 1487 1274 1441 1348 1638 1300 1410 1228 1413 1296 1493 1409 1612 1387 1449 1384 1619 1341 1463 1297 1421 1190 1469 1352 1496 1367 1474 1297 1540 1315 1610 1351 1445 1154 1676 1232 1433 1300 1439 1224 1639 1312 1417 1179 1458 1172 1449 1271 1450 1289 1445 1237 1673 1330 1444 1361 1626 1352 1436 1359 1454 1340 1525 1359 1546 1371 1426 1271 1639 1305 1484 1380 1426 1321 1507 1299 1411 1241 1437 1152 1666 1288 1545 1361 1426 1238 1415 1286 1439 1295 1474 1371 1482 1371 1476 1328 1510 1241 1468 1123 1498 1232 1671 1335 1497 1274 1491 1308 1435 1183 1633 1323 1667 1353 1520 1362 1494 1167 1432 1233 1445 1191 1631 1352 1510 1373 1484 1406 1498 1212 1445 1171 1445 1342 1414 1324 1429 1292 1548 1366 1434 1368 1434 1238 1479 1223 1554 1379 1426 1224 1434 1156 1429 1161 1506 1358 1492 1140 1446 1267 1634 1395 1486 1326 1471 1286 1415 1173 1489 1407 1672 1317 1471 1405 1477 1291 1422 1266 1501 1290 1490 1348 1429 1282 1689 1291 1524 1337 1557 1390 1514 1385 1638 1273 1417 1234 1615 1338 1476 1388 1518 1389 1493 1254 1515 1398 1529 1355 1449 1371 1482 1293 1424 1205 1458 1165 1679 1292 1454 1326 1618 1391 1635 1333 1511 1237 1449 1281 1477 1190 1635 1328 1699 1213 1689 1261 1486 1332 1495 1227 1434 1272 1631 1303 1498 1360 1494 1205 1451 1390 1660 1356 1480 1194 1443 1292 1445 1258 1525 1343 1677 1264 1534 1356 1417 1243 1690 1272 1416 1152 1645 1279 1470 1374 1446 1296 1678 1333 1474 1333 1625 1325 1472 1243 1510 1215 1420 1247 1410 1178 1520 1399 1691 1308 1643 1324 1647 1267 1695 1278 1434 1258 1473 1384 1667 1315 1495 1153 1473 1307 1464 1173 1488 1168 1419 1261 1663 1241 1472 1130 1479 1392 1637 1351 1438 1311 1661 1336 1680 1281 1701 1235 1561 1396 1524 1351 1454 1265 1505 1348 1554 1403 1671 1310 1458 1222 1489 1394 1455 1311 1433 1343 1509 1406 1590 1411 1458 1153 1504 1256 1434 1208 1424 1299 1562 1390 1503 1231 1630 1368 1467 1323 1491 1195 1452 1305 1655 1371 1428 1302 1485 1361 1660 1260 1500 1370 1507 1382 1668 1255 1666 1236 1689 1313 1649 1333 1477 1258 1475 1247 1611 1413 1608 1391 1565 1400 1441 1209 1611 1370 1519 1311 1425 1289 1479 1242 1671 1280 1428 1137 1459 1327 1534 1398 1458 1241 1674 1268 1427 1193 1421 1363 1466 1233 1484 1142 1646 1284 1522 1378 1463 1250 1459 1304 1579 1415 1443 1184 1680 1272 1416 1306 1631 1387 1498 1351 1671 1295 1503 1300 1455 1350 1653 1240 1508 1198 1466 1327 1466 1398 1605 1396 1479 1407 1603 1388 1444 1227 1459 1285 1489 1402 1654 1344 1515 1341 1441 1287 1643 1308 1658 1366 1675 1283 1493 1190 1489 1251 1610 1401 1534 1351 1427 1311 1643 1354 1489 1281 1430 1253 1665 1295 1645 1328 1662 1352 1491 1363 1454 1333 1464 1151 1538 1399 1424 1220 1503 1245 1422 1211 1674 1339 1556 1369 1496 1387 1462 1227 1466 1403 1542 1383 1440 1319 1535 1324 1629 1309 1502 1295 1439 1239 1644 1390 1600 1415 1496 1342 1658 1308 1450 1264" fill="none" stroke="none" marker-start="url(#mGc)" marker-mid="url(#mGc)" marker-end="url(#mGc)"/>
<path d="M1391 1203 1687 1401 1439 1113 1717 1282 1688 1242 1490 1411 1516 1414 1804 1233 1327 894 1739 1234 1377 961 1421 1121 1405 1026 1853 1216 1375 1349 1356 1286 1862 1154 1698 1399 1774 1221 1343 1244 1739 1208 1798 1208 1404 1121 1506 1414 1398 1360 1761 1243 1831 1213 1593 1417 1715 1213 1772 1185 1742 1320 1711 1193 1758 1327 1370 1272 1863 1130 1396 1038 1753 1332 1850 1161 1858 1190 1838 1184 1405 1138 1857 1194 1811 1241 1339 1262 1520 1414 1672 1371 1745 1314 1796 1230 1802 1305 1409 1328 1686 1334 1807 1219 1382 1246 1754 1110 1356 1236 1353 1057 1737 1265 1711 1363 1849 1233 1386 1327 1469 1093 1717 1157 1295 1071 1323 1255 1410 1132 1725 1286 1394 1121 1815 1215 1778 1308 1703 1335 1705 1344 1657 1244 1498 1144 1830 1219 1859 1185 1305 1230 1712 1202 1756 1221 1801 1215 1860 1136 1704 1396 1706 1222 1723 1200 1807 1207 1392 937 1381 1289 1347 1136 1766 1216 1700 1214 1400 1312 1845 1248 1354 1328 1794 1184 1855 1144 1416 1052 1275 1096 1442 1400 1375 1279 1743 1241 1839 1048 1309 1214 1396 1296 1681 1402 1797 1177 1418 948 1738 1197 1799 1223 1836 1187 1672 1246 1847 1168 1369 1035 1663 1376 1807 1250 1285 959 1405 1098 1344 1273 1381 1121 1799 1246 1465 1086 1822 1295 1725 1390 1385 1267 1437 1057 1260 1035 1501 1412 1336 1289 1696 1198 1783 1292 1791 1259 1309 1203 1258 1030 1329 720 1333 1140 1401 1283 1667 1400 1723 1279 1396 1176 1792 1295 1736 1298 1291 1161 1823 1285 1720 1242 1713 1381 1389 1117 1488 1123 1733 1325 1689 1194 1608 1414 1803 1323 1729 1282 1305 1205 1833 1261 1758 1289 1267 1059 1670 1393 1448 1109 1254 1025 1800 1344 1763 1374 1270 1077 1760 1191 1354 1265 1365 1073 1773 1259 1835 1250 1460 990 1399 1259 1345 969 1401 1266 1693 1400 1767 1345 1427 1113 1391 1231 1769 1358 1294 1072 1785 1359 1685 1347 1658 1401 1408 1113 1721 1384 1771 1306 1365 1223 1792 1199 1830 1153 1429 1066 1713 1110 1387 1222 1387 979 1378 1176 1455 1070 1435 1088 1409 1355 1294 1171 1396 1161 1700 1363 1672 1405 1824 1237 1378 1228 1381 1077 1754 1273 1872 1098 1349 1225 1705 1358 1426 1105 1382 1345 1813 1280 1361 1342 1377 1054 1478 1112 1375 1369 1462 1406 1451 1402 1717 1319 1463 1094 1824 1233 1377 1115 1409 1335 1686 1212 1279 1111 1766 1188 1373 1059 1435 974 1334 1194 1424 1392 1348 1320 1816 1061 1818 1256 1727 1222 1444 1081 1346 1316 1395 1266 1443 1024 1386 1080 1394 1309 1735 1247 1770 1351 1670 1234 1765 1312 1244 966 1650 1410 1312 1224 1406 1127 1694 1349 1432 1018 1364 1258 1423 1044 1405 1345 1368 881 1485 1067 1402 929 1821 1202 1743 1299 1717 1307 1872 1098 1841 1168 1445 1068 1298 1036 1847 1148 1338 1221 1786 1214 1288 1145 1451 1090 1329 1181 1423 975 1763 1359 1321 1245 1408 1150 1359 924 1722 1376 1843 1230 1380 1333 1410 1040 1734 1240 1318 1192 1854 1211 1855 1130 1343 1282 1363 1136 1397 1170 1416 1130 1671 1378 1368 1353 1386 1333 1365 1165 1400 1388 1403 1339 1329 1216 1793 1352 1422 1061 1331 1275 1276 1101 1382 1062 1748 1370 1400 1188 1707 1280 1744 1204 1486 1068 1436 1120 1394 1075 1368 870 1829 1293 1725 1305 1359 923 1748 1153 1776 1252 1303 932 1731 1305 1840 1179 1823 1308 1330 1270 1821 1194 1387 1123 1358 1337 1704 1268 1837 1214 1852 1176 1389 1251 1840 1263 1372 1308 1301 1190 1387 1298 1821 1246 1421 1080 1442 1088 1354 1014 1713 1334 1399 1126 1366 1055 1862 1150 1815 1176 1729 1189 1329 1158 1785 1184 1375 1359 1793 1213 1862 1159 1264 1056 1815 1246 1839 1170 1797 1278 1297 1177 1709 1229 1827 1256 1469 1407 1746 1184 1428 1083 1618 1413 1407 1316 1416 1015 1740 1344 1290 823 1390 1217 1736 1368 1400 1094 1382 1275 1791 1282 1385 1240 1303 1196 1384 1310 1813 1208 1356 1078 1372 1315 1677 1404 1408 1162 1727 1238 1454 1099 1857 1125 1829 1246 1712 1240 1540 1416 1477 1106 1753 1354 1860 1170 1429 1394 1401 1166 1749 1193 1382 1089 1829 1224 1400 1231 1711 1266 1657 1407 1779 1263 1338 1165 1863 1198 1414 1060 1781 1300 1765 1304 1834 1283 1402 1067 1775 1232 1411 1386 1473 1407 1861 1164 1863 1135 1778 1176 1712 1301 1819 1316 1254 1020 1792 1245 1400 1133 1405 976 1725 1259 1719 1207 1841 1173 1828 1222 1849 1186 1323 1080 1763 1333 1481 1410 1709 1397 1753 1261 1437 1067 1320 1174 1412 1368 1700 1301 1855 1214 1441 1062 1792 1252 1743 1247 1745 1278 1312 1219 1746 1334 1831 1204 1721 1248 1720 1226 1704 1175 1322 1249 1454 1044 1817 1301 1774 1323 1813 1285 1368 882 1752 1249 1401 940 1477 1409 1704 1238 1714 1345 1389 1135 1395 1338 1836 1192 1367 1095 1845 1211 1683 1383 1360 1304 1415 1389 1332 1279 1455 1403 1392 1029 1763 1276 1355 1333 1372 1287 1468 1074 1400 1367 1804 1184 1779 1367 1696 1391 1742 1376 1317 1232 1401 993 1353 1300 1647 1403 1717 1219 1705 1371 1364 1283 1430 1119 1855 1200 1750 1287 1417 1074 1792 1315 1846 1154 1385 1201 1865 1150 1859 1174 1802 1050 1784 1220 1727 1343 1385 986 1396 1331 1705 1305 1415 931 1820 1251 1822 1242 1401 1011 1421 864 1777 1270 1768 1328 1427 1099 1867 1178 1750 1201 1814 1327 1692 1187 1303 1201 1698 1385 1861 1144 1393 1354 1298 1185 1427 1055 1451 1083 1803 1258 1390 1258 1859 1130 1691 1384 1732 1200 1382 1338 1754 1186 1737 1358 1729 1229 1414 975 1768 1248 1723 1186 1303 979 1353 1342 1398 1323 1734 1347 1833 1220 1766 1236 1254 1020 1705 1379 1770 1336 1456 1093 1698 1321 1764 1224 1829 1196 1496 1411 1736 1228 1786 1304 1361 1277 1392 1145 1405 1295 1391 1173 1793 1341 1854 1206 1764 1144 1414 1109 1754 1212 1734 1180 1375 1081 1768 1373 1718 1181 1761 1318 1703 1327 1798 1253 1736 1279 1487 1108 1370 1295 1401 1080 1785 1177 1417 1099 1790 1355 1397 1153 1435 1096 1415 1362 1773 1239 1416 1356 1810 1257 1686 1356 1751 1381 1728 1299 1795 1288 1406 1054 1726 1360 1720 1300 1398 764 1379 1043 1297 1181 1386 1105 1369 1181 1403 1157 1720 1336 1398 1054 1796 1193 1390 1152 1710 1186 1387 1287 1714 1234 1801 1329 1760 1350 1764 1293 1706 1260 1373 1091 1453 1055 1735 1340 1443 1002 1397 1218 1378 1266 1387 1350 1795 1308 1692 1228 1822 1312 1783 1340 1779 1315 1388 1304 1740 1186 1821 1127 1412 947 1340 1301 1392 1096 1385 1145 1772 1315 1794 1166 1405 1145 1398 1290 1839 1190 1760 1164 1744 1222 1384 1317 1320 1149 1473 1098 1362 1068 1771 1293 1387 1370 1367 1349 1381 1322 1839 1049 1336 975 1368 1336 1692 1363 1703 1291 1785 1348 1379 1128 1392 1278 1410 1341 1399 1116 1825 1264 1744 1292 1370 1343 1393 1130 1725 1213 1680 1200 1835 1277 1391 1373 1282 1124 1712 1372 1383 1217 1392 1083 1735 1385 1402 1049 1336 1109 1400 1197 1782 1284 1365 1081 1428 1004 1369 1321 1405 1173 1790 1189 1718 1254 1419 1092 1344 1252 1380 1069 1796 1301 1284 1130 1747 1213 1651 1398 1757 1280 1706 1124 1490 1115 1840 1015 1527 1415 1731 1318 1327 1265 1298 1221 1433 1397 1790 1327 1323 1131 1810 1332 1782 1238 1385 1048 1419 1381 1392 1053 1361 1354 1845 1164 1320 1214 1547 1417 1401 1351 1774 1345 1277 1104 1398 1379 1368 1303 1360 1323 1804 1281 1784 1251 1494 1125 1371 1101 1384 1112 1836 1197 1436 1047 1730 1207 1369 1065 1799 1140 1412 1096 1460 990 1384 1378 1750 1238 1808 1316 1281 1119 1736 1309 1815 1321 1734 1151 1314 1227 1536 1416 1421 1109 1706 1209 1459 1113 1400 1277 1263 1050 1396 1063 1718 1363 1403 1381 1755 1315 1840 1204 1720 1352 1427 1076 1363 950 1397 1044 1364 1270 1311 1169 1463 1081 1327 1198 1325 1260 1469 1106 1721 1235 1690 1377 1729 1354 1361 1022 1398 1344 1790 1224 1719 1393 1765 1204 1786 1318 1367 1361 1753 1322 1369 1047 1375 1072 1286 1055 1824 1174 1819 1238 1394 1302 1761 1183 1285 1056 1831 1288 1457 1086 1745 1262 1405 1303 1421 1029 1376 1064 1410 1104 1599 1417 1835 1240 1473 1047 1325 1118 1666 1406 1802 1050 1760 1198 1694 1333 1645 1410 1383 1253 1711 1314 1840 1015 1361 1058 1848 1143 1280 1115 1810 1300 1463 1104 1730 1265 1769 1286 1702 1313 1245 966 1409 1080 1713 1394 1720 1328 1480 1121 1689 1156 1413 1140 1511 1412 1411 1088 1391 1365 1838 1268 1385 1356 1351 1279 1405 1085 1395 1283 1402 1330 1831 1178 1425 1091 1406 1370 1478 1092 1340 1236 1375 1108 1772 1194 1813 1189 1765 1264 1453 1062 1452 1116 1679 1378 1383 1134 1382 1367 1773 1202 1711 1290 1365 1312 1391 1292 1759 1228 1709 1254 1463 1070 1661 1394 1394 1374 1778 1211 1691 1325 1374 1145 1814 1311 1417 1086 1829 1298 1398 1143 1412 1124 1398 1086 1423 1069 1262 1040 1332 876 1770 1278 1400 1223 1552 1417 1404 1324 1809 1305 1390 1164 1336 1285 1806 1264 1357 1294 1697 1355 1473 1117 1387 1004 1706 1387 1812 1290 1784 1197 1710 1247 1780 1276 1811 1294 1666 1385 1333 877 1303 932 1391 1090 1286 1135 1842 1258 1352 1252 1749 1305 1777 1190 1746 1254 1319 1240 1410 1069 1356 1114 1583 1417 1432 959 1347 1210 1697 1374 1406 1061 1729 1293 1457 1000 1826 1279 1328 894 1832 1208 1406 1383 1733 1287 1763 1283 1317 1237 1394 1272 1843 1252 1676 1384 1427 1384 1355 1309 1782 1363 1788 1335 1834 1137 1441 1074 1733 1377 1614 1414 1377 1295 1679 1370 1765 1365 1801 1288 1851 1221 1790 1148 1814 1275 1447 1094 1845 1159 1376 1342 1794 1112 1789 1207 1269 1069 1394 1226 1823 1186 1729 1250 1441 1105 1378 1100 1870 1062 1741 1284 1292 1156 1800 1238 1841 1223 1410 1050 1744 1351 1271 1082 1834 1231 1705 1138 1364 1345 1803 1296 1846 1203 1445 1038 1345 1309 1376 1214 1344 1305 1744 1230 1785 1260 1799 1318 1366 1089 1731 1388 1298 1036 1777 1356 1346 1265 1433 1104 1830 1270 1446 1116 1851 1228 1826 1227 1689 1342 1792 1107 1833 1171 1333 1064 1442 1098 1394 1239 1383 1054 1388 1042 1733 1333 1796 1134 1273 1092 1414 1000 1603 1415 1796 1267 1786 1312 1391 1315 1351 1325 1790 1235 1368 870 1780 1246 1398 1253 1833 1202 1743 1365 1722 1265 1375 1324 1397 1100 1824 1270 1814 1270 1740 1384 1690 1202 1381 1303 1702 1190 1347 1172 1269 1072 1816 1061 1531 1416 1809 1228 1806 1196 1745 1270 1316 1111 1764 1256 1807 1337 1395 1138 1379 1362 1802 1271 1336 1203 1748 1360 1389 950 1556 1417 1389 1340 1780 1226 1392 1324 1331 1249 1401 1073 1625 1413 1811 1183 1472 1047 1845 1196 1659 1230 1515 1220 1402 1181 1698 1308 1383 1024 1333 1259 1756 1378 1740 1216 1373 1355 1271 1087 1588 1417 1377 961 1805 1177 1849 1238 1496 1132 1268 1065 1747 1327 1734 1220 1721 1345 1680 1358 1871 1063 1303 981 1720 1194 1374 1301 1355 1317 1715 1272 1849 1138 1852 1135 1750 1226 1383 979 1789 1267 1347 1116 1749 1347 1863 1139 1472 1083 1329 1232 1381 1259 1813 1234 1356 1033 1837 1272 1724 1316 1683 1394 1457 1078 1397 1211 1343 1024 1662 1408 1367 1127 1786 1277 1285 959 1386 1210 1817 1265 1726 1176 1323 1080 1796 1333 1482 1101 1446 1058 1436 1031 1410 1349 1394 1107 1758 1251 1311 1239 1370 1328 1824 1211 1720 1293 1356 1163 1685 1365 1696 1340 1758 1205 1485 1411 1859 1180 1640 1410 1826 1302 1813 1201 1384 1233 1757 1342 1436 1398 1359 1253 1364 1297 1814 1151 1855 1151 1710 1353 1392 1191 1417 1374 1389 1063 1800 1199 1395 1183 1361 1194 1405 1361 1346 970 1734 1140 1755 1367 1422 1050 1780 1202 1294 1166 1630 1411 1399 1247 1363 1329 1804 1340 1264 1045 1578 1418 1738 1253 1857 1124 1466 1115 1288 1141 1390 1070 1818 1259 1746 1341 1728 1272 1403 1107 1753 1298 1769 1228 1708 1324 1457 1105 1349 1291 1740 1327 1770 1270 1435 1079 1464 1063 1704 1202 1399 1204 1421 864 1307 1209 1675 1398 1330 1241 1419 1390 1635 1411 1343 1190 1760 1298 1757 1235 1758 1267 1758 1308 1445 1401 1777 1334 1775 1299 1383 1281 1774 1369 1354 1013 1291 1151 1337 1253 1770 1210 1780 1327 1339 1296 1449 1077 1724 1369 1797 1348 1412 1377 1747 1381 1386 1094 1374 1192 1336 974 1417 1116 1817 1221 1807 1310 1819 1228 1727 1329 1363 950 1847 1242 1459 1404" fill="none" stroke="none" marker-start="url(#mLc)" marker-mid="url(#mLc)" marker-end="url(#mLc)"/>
<path d="M1472 1228 1644 1289 1477 1398 1524 1389 1681 1367 1412 1037 1641 1364 1427 1372 1655 1293 1529 1308 1646 1307 1658 1300 1503 1263 1620 1354 1363 1157 1451 1268 1426 1381 1470 1242 1581 1367 1485 1171 1654 1305 1413 1335 1511 1385 1668 1376 1511 1268 1459 1320 1594 1402 1437 1221 1454 1219 1481 1367 1681 1288 1425 1389 1646 1359 1620 1372 1485 1315 1494 1393 1666 1273 1455 1207 1494 1341 1607 1367 1663 1350 1370 1307 1354 1330 1737 1298 1438 1335 1478 1238 1390 1011 1597 1343 1433 1388 1424 1304 1472 1385 1542 1389 1450 1377 1429 1247 1509 1239 1423 1316 1442 1255 1427 1157 1709 1314 1413 1222 1507 1367 1464 1220 1440 1281 1652 1339 1437 1026 1434 1356 1458 1346 1382 980 1636 1292 1430 1216 1459 1289 1689 1268 1672 1315 1522 1269 1462 1381 1494 1367 1652 1266 1610 1398 1616 1337 1424 1181 1512 1407 1385 1218 1428 1224 1660 1255 1424 1325 1520 1402 1433 1318 1659 1261 1310 1222 1607 1406 1418 1281 1659 1367 1446 1074 1409 1145 1396 1086 1520 1350 1580 1359 1466 1194 1503 1400 1440 1266 1451 1189 1537 1402 1423 1359 1670 1327 1412 1376 1416 1237 1441 1094 1469 1360 1401 1241 1465 1203 1468 1341 1624 1324 1455 1372 1322 1132 1428 1334 1628 1371 1436 1394 1646 1352 1670 1250 1418 1365 1433 1341 1581 1406 1434 1370 1432 1239 1543 1322 1501 1239 1663 1306 1661 1319 1485 1403 1409 1355 1445 1396 1809 1271 1494 1241 1398 1185 1649 1317 1650 1278 1657 1279 1603 1389 1673 1287 1468 1263 1642 1331 1417 1310 1631 1288 1495 1251 1279 1111 1642 1298 1849 1160 1652 1259 1377 961 1488 1252 1677 1257 1420 1074 1668 1256 1425 1268 1420 1333 1520 1302 1424 1205 1434 1306 1653 1287 1430 1195 1513 1247 1472 1392 1633 1311 1617 1396 1286 1056 1643 1280 1433 1276 1449 1389 1633 1354 1623 1378 1650 1380 1428 1350 1547 1328 1660 1287 1471 1221 1439 1195 1654 1251 1394 1235 1453 1361 1446 1124 1634 1369 1435 1327 1645 1342 1388 1063 1673 1262 1539 1315 1433 1142 1391 1019 1442 1202 1477 1285 1653 1272 1375 1147 1572 1411 1488 1245 1504 1271 1438 1185 1491 1218 1417 1350 1503 1254 1303 982 1450 1354 1404 1061 1416 1111 1515 1262 1563 1409 1607 1346 1476 1377 1459 1163 1442 1294 1628 1295 1416 1298 1390 1180 1448 1197 1443 1240 1317 1171 1460 1214 1495 1227 1462 1373 1661 1247 1484 1214 1464 1152 1403 1211 1675 1279 1623 1302 1424 1259 1650 1389 1461 1239 1480 1227 1667 1288 1379 1231 1468 1367 1403 1315 1476 1215 1442 1389 1481 1346 1485 1207 1327 1259 1505 1245 1442 1233 1537 1308 1417 1324 1538 1301 1668 1240 1618 1313 1646 1261 1485 1233 1476 1201 1337 1183 1441 1343 1455 1122 1526 1282 1365 1070 1355 1324 1556 1352 1669 1268 1318 1241 1448 1369 1442 1376 1439 1248 1472 1174 1451 1109 1550 1406 1485 1259 1401 1376 1627 1389 1507 1346 1527 1293 1512 1255 1322 1250 1661 1295 1431 1264 1529 1301 1640 1356 1511 1320 1677 1267 1498 1320 1434 1380 1430 1363 1469 1379 1698 1381 1435 1228 1466 1398 1555 1398 1661 1241 1427 1133 1462 1358 1634 1361 1403 1050 1440 1312 1459 1228 1435 1349 1648 1295 1659 1268 1548 1339 1425 1239 1659 1311 1635 1283 1631 1301 1669 1295 1493 1260 1446 1328 1602 1336 1425 1278 1457 1398 1637 1343 1519 1278 1398 1197 1398 1326 1450 1241 1638 1303 1409 1264 1641 1273 1445 1214 1520 1328 1623 1393 1647 1269 1370 1170 1385 1003 1529 1359 1407 1341 1392 1296 1352 1057 1655 1329 1464 1388 1441 1367 1477 1194 1429 1233 1466 1233 1407 1084 1429 1294 1555 1344 1437 1208 1511 1276 1626 1363 1443 1356 1468 1211 1254 1021 1451 1146 1459 1192 1534 1294 1533 1376 1451 1346 1422 1342 1448 1223 1492 1404 1479 1245 1593 1352 1433 1059 1477 1209 1664 1281 1665 1300 1468 1185 1648 1330 1652 1311 1650 1346 1446 1159 1429 1311 1411 1368 1628 1383 1323 1080 1419 1374 1441 1301 1639 1350 1494 1289 1629 1402 1674 1273 1431 1255 1481 1391 1452 1234 1460 1366 1434 1286 1633 1376 1650 1324 1452 1335 1389 1268 1444 1320 1416 1100 1585 1363 1586 1356 1793 1181 1472 1315 1520 1372 1665 1393 1518 1287 1404 1364 1629 1337 1637 1393 1354 1015 1424 1287 1457 1389 1617 1383 1702 1268 1642 1337 1485 1385 1501 1231 1637 1324 1319 1163 1511 1294 1411 1181 1797 1299 1419 1381 1641 1370 1616 1389" fill="none" stroke="none" marker-start="url(#mDc)" marker-mid="url(#mDc)" marker-end="url(#mDc)"/>
<path d="M1549 1401 1476 1327 1500 1312 1519 1365 1551 1390 1584 1393 1627 1325 1482 1269 1470 1299 1534 1382 1454 1284 1557 1389 1519 1326 1457 1299 1454 1317 1539 1352 1503 1370 1504 1317 1533 1387 1500 1277 1514 1390 1453 1248 1485 1282 1523 1401 1512 1376 1591 1368 1618 1369 1545 1353 1469 1311 1497 1322 1472 1269 1612 1343 1505 1310 1450 1254 1466 1338 1556 1401 1458 1267 1525 1386 1562 1399 1631 1323 1518 1358 1517 1312 1547 1366 1566 1412 1502 1295 1634 1309 1606 1378 1501 1320 1487 1333 1521 1341 1561 1409 1511 1315 1522 1337 1467 1302 1467 1286 1477 1317 1588 1384 1585 1381 1470 1336 1583 1388 1599 1356 1533 1379 1515 1343 1522 1395 1607 1361 1513 1339 1508 1289 1482 1352 1585 1377 1469 1318 1481 1310 1466 1273 1611 1358 1623 1322 1607 1365 1634 1335 1594 1378 1516 1386 1476 1271 1521 1307 1465 1299 1493 1357 1543 1349 1531 1399 1518 1330 1528 1406 1625 1307 1554 1364 1558 1414 1583 1396 1617 1355 1448 1282 1542 1354 1465 1309 1475 1259 1544 1363 1492 1284 1461 1315 1471 1252 1623 1343 1607 1341 1601 1369 1510 1357 1629 1329 1447 1276 1467 1327 1490 1350 1498 1360 1570 1398 1515 1303 1527 1328 1600 1393 1504 1375 1512 1372 1482 1262 1493 1270 1514 1367 1562 1382 1495 1381 1501 1287 1512 1387 1506 1364 1545 1398 1514 1399 1531 1364 1641 1320 1580 1393 1533 1367 1503 1335 1514 1353 1562 1414 1481 1280 1529 1326 1475 1338 1456 1321 1536 1346 1521 1373 1493 1323 1538 1343 1500 1375 1539 1383 1617 1329 1533 1359 1467 1346 1624 1334 1490 1288 1492 1365 1630 1344 1495 1315 1458 1326 1458 1258 1477 1286 1533 1355 1543 1412 1514 1395 1462 1248 1448 1268 1601 1388 1567 1400 1608 1346 1495 1340 1492 1347 1483 1285 1495 1276 1554 1388 1581 1382 1536 1370 1533 1339 1550 1375 1504 1351 1550 1382 1465 1317 1524 1314 1521 1381 1491 1310 1508 1329 1538 1363 1450 1251 1539 1379 1482 1257 1630 1310 1538 1367 1495 1368 1487 1337 1520 1347 1465 1333 1472 1302 1500 1367 1566 1393 1508 1378 1590 1388 1523 1326 1540 1345 1539 1412 1481 1315 1473 1282 1478 1293 1478 1350 1526 1379 1539 1392 1483 1322 1460 1332 1470 1285 1546 1376 1501 1303 1495 1308 1496 1365 1508 1312 1472 1257 1567 1396 1495 1330 1626 1352 1529 1357 1490 1277 1475 1295 1607 1355 1501 1380 1551 1408 1479 1259 1515 1298 1480 1301 1514 1326 1503 1388 1453 1304 1567 1403 1503 1344 1528 1337 1544 1345 1495 1305 1455 1256 1520 1316 1498 1356 1531 1384 1474 1265 1589 1392 1614 1372 1477 1345 1620 1336 1588 1372 1485 1260 1457 1283 1484 1347 1491 1376 1524 1318 1510 1361 1613 1377 1519 1335 1479 1339 1611 1336 1592 1402 1524 1359 1515 1357 1521 1385 1468 1290 1529 1331 1505 1301 1458 1247 1492 1343 1459 1278 1546 1380 1512 1323 1477 1298 1494 1319 1484 1340 1484 1335 1481 1346 1534 1397 1509 1317 1530 1374 1597 1402 1501 1347 1559 1406 1502 1325 1565 1408 1482 1364 1499 1331 1464 1291 1532 1334 1559 1395 1473 1306 1487 1263 1636 1317 1508 1393 1639 1310 1485 1291 1467 1313 1614 1360 1615 1323 1476 1275 1527 1402 1456 1310 1536 1389 1620 1352 1479 1263 1500 1307 1495 1291 1500 1281 1464 1265 1491 1338 1551 1394 1537 1375 1453 1268 1544 1371 1525 1333 1462 1253 1529 1395 1541 1340 1463 1306 1488 1361 1472 1292 1519 1371 1518 1399 1603 1347 1483 1266 1486 1365 1546 1405 1490 1326 1518 1381 1619 1340 1490 1315 1463 1336 1598 1380 1511 1331 1569 1414 1555 1384 1490 1331 1554 1374 1507 1305 1498 1384 1604 1374 1535 1364 1461 1275 1487 1323 1507 1387 1480 1335 1526 1339 1607 1370 1460 1310 1594 1386 1556 1393 1476 1308 1479 1283 1584 1401 1451 1293 1562 1387 1619 1360 1476 1302 1454 1252 1602 1364 1480 1272 1524 1404 1464 1329 1525 1362 1494 1295 1502 1361 1618 1321 1603 1358 1455 1295 1551 1398 1486 1296 1539 1349 1549 1386 1504 1383 1493 1361 1623 1317 1590 1398 1571 1402 1513 1364 1523 1345 1553 1402 1569 1407 1525 1396 1536 1403 1541 1359 1502 1355 1528 1344 1521 1310 1454 1288 1451 1309 1498 1296 1619 1365 1514 1380 1489 1281 1541 1396 1547 1391 1504 1283 1470 1340 1508 1323 1548 1370 1532 1350 1488 1267 1547 1395 1510 1396 1542 1377 1494 1327 1499 1291 1497 1335 1490 1306 1511 1345 1537 1332 1486 1272 1510 1297 1546 1412 1454 1261 1518 1301 1505 1330 1460 1319 1507 1295 1473 1313 1616 1344 1493 1335 1485 1310 1507 1335 1490 1354 1482 1328 1454 1281 1510 1382 1629 1335 1467 1253 1532 1324 1456 1271 1515 1318 1535 1352 1597 1374 1626 1312 1482 1298 1488 1341 1526 1367 1461 1259 1527 1348 1511 1350 1543 1404 1557 1368 1509 1373 1502 1340 1558 1373 1599 1361 1643 1312 1539 1401 1469 1306 1483 1303 1450 1265 1477 1279 1628 1316 1474 1349 1479 1306 1505 1347 1476 1335 1511 1311 1471 1328 1521 1355 1615 1337 1561 1402 1579 1407 1524 1390 1607 1386 1478 1359 1632 1318 1498 1339 1538 1406 1561 1391 1531 1404 1520 1390 1451 1299 1594 1397 1514 1360 1466 1261 1517 1377 1606 1351 1462 1324 1482 1332 1473 1278 1541 1388 1478 1331 1532 1391 1489 1368 1470 1264 1472 1333 1520 1321 1477 1254 1619 1348 1480 1288 1500 1343 1625 1357 1496 1372 1468 1256 1528 1320 1529 1378 1458 1303 1468 1323 1463 1280 1515 1309 1490 1292 1551 1359 1474 1353 1615 1333 1635 1313 1474 1288 1542 1367 1486 1327 1461 1270 1464 1342 1499 1300 1489 1298 1473 1316 1528 1388 1471 1274 1472 1261 1484 1369 1486 1316 1635 1328 1558 1384 1602 1382 1551 1368 1466 1249 1508 1354 1525 1371 1469 1332 1509 1303 1576 1395 1470 1295 1522 1330 1611 1362 1475 1250 1461 1298 1627 1341 1536 1337 1600 1376 1498 1326 1495 1312 1507 1342 1515 1331 1486 1306 1624 1329 1575 1404 1519 1338 1465 1257 1533 1343 1554 1396 1467 1294 1570 1411 1496 1282 1516 1350 1542 1391 1611 1381 1481 1342 1511 1292 1470 1349 1458 1251 1563 1405 1504 1322 1472 1322 1517 1362 1526 1374 1486 1276 1590 1406 1468 1268 1497 1286 1582 1410 1525 1354 1540 1372 1592 1382 1517 1306 1479 1323 1517 1323 1450 1259 1565 1389 1588 1402 1590 1378 1490 1372 1594 1362 1500 1351 1593 1372 1602 1353 1550 1413 1546 1358 1452 1278 1527 1383 1600 1398 1486 1372 1613 1353 1506 1338 1487 1288 1459 1286 1523 1365 1461 1293 1527 1323 1554 1412 1457 1314 1466 1282 1494 1351 1628 1348 1554 1406 1553 1380 1480 1356 1596 1390 1466 1278 1455 1274 1535 1329 1529 1353 1516 1347 1557 1410 1521 1378 1480 1319 1496 1377 1505 1356 1488 1357 1627 1320 1544 1408 1484 1355 1596 1367 1489 1346 1505 1287 1486 1351 1586 1406 1558 1378 1643 1316 1490 1321 1545 1385 1579 1389 1636 1322 1448 1262 1478 1267 1483 1359 1469 1278 1454 1264 1632 1339 1604 1392 1511 1335 1570 1403 1632 1314 1459 1263 1477 1313 1549 1362 1496 1347 1505 1291 1511 1307 1552 1371 1611 1349 1612 1328 1450 1273 1463 1287 1518 1396 1492 1274 1494 1299 1578 1401 1477 1342 1549 1354 1482 1276 1573 1398 1619 1325 1624 1347 1508 1369 1499 1316 1536 1356 1510 1366 1451 1288 1613 1366 1479 1363 1491 1301 1504 1379 1538 1398 1610 1373 1533 1409 1473 1343 1457 1292 1615 1348 1522 1351 1532 1371" fill="none" stroke="none" marker-start="url(#mNc)" marker-mid="url(#mNc)" marker-end="url(#mNc)"/>
<g stroke="#c8102e" stroke-width="4.6" stroke-dasharray="4.4 6.1">
<line x1="1521.5" y1="657.3" x2="1521.5" y2="1440.0"/>
<line x1="1611.7" y1="657.3" x2="1611.7" y2="1440.0"/>
<line x1="1190.4" y1="1362.0" x2="1904" y2="1362.0"/>
</g>
<line x1="248.8" y1="1822.4" x2="248.8" y2="2612.8" stroke="#d6d6d6" stroke-width="2"/>
<line x1="248.8" y1="2612.8" x2="977.9" y2="2612.8" stroke="#d6d6d6" stroke-width="2"/>
<line x1="248.8" y1="1822.4" x2="977.9" y2="1822.4" stroke="#d6d6d6" stroke-width="2"/>
<line x1="977.9" y1="1822.4" x2="977.9" y2="2612.8" stroke="#d6d6d6" stroke-width="2"/>
<line x1="240.8" y1="2578.4" x2="248.8" y2="2578.4" stroke="#c8c8c8" stroke-width="1.5"/>
<text x="230.8" y="2591.9" text-anchor="end" class="vt">0</text>
<line x1="240.8" y1="2482.3" x2="248.8" y2="2482.3" stroke="#c8c8c8" stroke-width="1.5"/>
<text x="230.8" y="2495.8" text-anchor="end" class="vt">4</text>
<line x1="240.8" y1="2386.2" x2="248.8" y2="2386.2" stroke="#c8c8c8" stroke-width="1.5"/>
<text x="230.8" y="2399.7" text-anchor="end" class="vt">8</text>
<line x1="240.8" y1="2290.0" x2="248.8" y2="2290.0" stroke="#c8c8c8" stroke-width="1.5"/>
<text x="230.8" y="2303.5" text-anchor="end" class="vt">12</text>
<line x1="240.8" y1="2193.9" x2="248.8" y2="2193.9" stroke="#c8c8c8" stroke-width="1.5"/>
<text x="230.8" y="2207.4" text-anchor="end" class="vt">16</text>
<line x1="240.8" y1="2097.8" x2="248.8" y2="2097.8" stroke="#c8c8c8" stroke-width="1.5"/>
<text x="230.8" y="2111.3" text-anchor="end" class="vt">20</text>
<line x1="240.8" y1="2001.7" x2="248.8" y2="2001.7" stroke="#c8c8c8" stroke-width="1.5"/>
<text x="230.8" y="2015.2" text-anchor="end" class="vt">24</text>
<line x1="240.8" y1="1905.6" x2="248.8" y2="1905.6" stroke="#c8c8c8" stroke-width="1.5"/>
<text x="230.8" y="1919.1" text-anchor="end" class="vt">28</text>
<line x1="280.6" y1="2612.8" x2="280.6" y2="2621.3" stroke="#c8c8c8" stroke-width="1.5"/>
<text x="280.6" y="2665.8" text-anchor="middle" class="vt">-8</text>
<line x1="363.8" y1="2612.8" x2="363.8" y2="2621.3" stroke="#c8c8c8" stroke-width="1.5"/>
<text x="363.8" y="2665.8" text-anchor="middle" class="vt">-6</text>
<line x1="446.9" y1="2612.8" x2="446.9" y2="2621.3" stroke="#c8c8c8" stroke-width="1.5"/>
<text x="446.9" y="2665.8" text-anchor="middle" class="vt">-4</text>
<line x1="530.1" y1="2612.8" x2="530.1" y2="2621.3" stroke="#c8c8c8" stroke-width="1.5"/>
<text x="530.1" y="2665.8" text-anchor="middle" class="vt">-2</text>
<line x1="613.3" y1="2612.8" x2="613.3" y2="2621.3" stroke="#c8c8c8" stroke-width="1.5"/>
<text x="613.3" y="2665.8" text-anchor="middle" class="vt">0</text>
<line x1="696.5" y1="2612.8" x2="696.5" y2="2621.3" stroke="#c8c8c8" stroke-width="1.5"/>
<text x="696.5" y="2665.8" text-anchor="middle" class="vt">2</text>
<line x1="779.7" y1="2612.8" x2="779.7" y2="2621.3" stroke="#c8c8c8" stroke-width="1.5"/>
<text x="779.7" y="2665.8" text-anchor="middle" class="vt">4</text>
<line x1="862.8" y1="2612.8" x2="862.8" y2="2621.3" stroke="#c8c8c8" stroke-width="1.5"/>
<text x="862.8" y="2665.8" text-anchor="middle" class="vt">6</text>
<line x1="946.0" y1="2612.8" x2="946.0" y2="2621.3" stroke="#c8c8c8" stroke-width="1.5"/>
<text x="946.0" y="2665.8" text-anchor="middle" class="vt">8</text>
<text transform="translate(90.7,2161) rotate(-90)" text-anchor="middle" class="ax">-log10 adj. p-value</text>
<text x="589.4" y="2710.7" text-anchor="middle" class="ax2">log2 FC</text>
<text x="584" y="1794.3" text-anchor="middle" class="st">RNA-seq</text>
<path d="M584 2528 634 2313 552 2214 547 2328 565 2316 557 2342 651 2342 668 2280 602 2444 593 2240 646 2235 551 2238 576 2253 653 2538 636 2330 624 2279 658 2508 576 2154 645 2290 608 2282 565 2235 642 2488 655 2392 586 2110 647 2166 631 2217 637 2299 646 2401 604 2285 591 2345 567 2075 559 2251 599 2238 537 2228 643 2152 602 2234 583 2406 548 2260 582 2542 605 2575 655 2453 581 2430 648 2231 588 2301 604 2469 566 2402 613 2465 601 2297 573 2467 597 2243 585 2098 589 2566 657 2232 645 2371 586 2519 574 2215 569 2514 658 2483 581 2185 567 2115 579 2148 641 2353 556 2243 596 2192 631 2492 573 2093 593 2327 605 2511 599 2437 604 2410 580 2365 561 2091 651 2272 588 2180 648 2471 650 2393 622 2523 643 2382 661 2310 663 2334 579 2348 544 2097 627 2296 543 2149 651 2181 578 2360 608 2470 628 2233 658 2317 586 2321 555 2320 659 2368 549 2349 642 2404 619 2480 655 2406 563 2106 565 2197 629 2454 610 2475 590 2150 568 2248 551 2311 621 2493 572 2330 633 2566 622 2512 635 2309 581 2138 543 2199 595 2445 579 2226 572 2435 586 2256 577 2173 610 2573 633 2418 594 2183 596 2373 592 2497 635 2479 653 2402 538 2289 552 2259 631 2344 634 2167 609 2407 565 2397 667 2357 626 2404 606 2342 617 2564 649 2479 605 2271 556 2256 652 2123 629 2562 569 2253 570 2325 636 2352 537 2200 537 2205 577 2378 584 2561 572 2361 660 2327 655 2292 637 2323 613 2566 548 2217 625 2409 620 2579 614 2573 591 2277 639 2228 640 2392 658 2188 628 2332 639 2381 649 2191 629 2270 567 2350 590 2265 630 2432 603 2519 638 2467 649 2219 627 2258 569 2097 621 2433 602 2324 546 2237 633 2484 610 2494 661 2206 581 2494 653 2434 583 2115 601 2565 661 2237 640 2251 575 2458 584 2546 582 2294 609 2325 542 2185 643 2433 586 2381 547 2092 636 2498 639 2515 649 2158 640 2553 552 2177 580 2556 646 2394 586 2348 627 2380 638 2246 669 2328 589 2199 554 2208 587 2448 576 2521 614 2408 651 2501 584 2120 651 2324 604 2238 643 2306 584 2481 661 2422 617 2381 591 2137 585 2233 567 2171 641 2495 656 2479 626 2519 668 2318 576 2294 654 2118 618 2490 562 2078 627 2449 608 2312 591 2123 597 2570 649 2310 618 2372 582 2236 554 2081 644 2378 555 2074 642 2338 555 2302 554 2251 644 2128 649 2129 629 2323 604 2401 588 2295 546 2185 550 2229 628 2263 593 2227 606 2278 587 2171 595 2557 546 2179 597 2305 556 2148 598 2492 583 2168 613 2385 578 2141 608 2542 609 2444 578 2531 658 2259 601 2481 575 2502 667 2294 650 2455 549 2084 541 2118 624 2429 614 2425 660 2445 633 2520 645 2328 570 2108 635 2386 649 2143 542 2181 593 2436 549 2142 594 2234 640 2370 655 2297 572 2354 657 2322 622 2328 595 2522 571 2196 550 2098 606 2367 624 2417 586 2532 605 2380 574 2284 648 2319 601 2425 563 2278 613 2485 656 2131 568 2309 576 2230 542 2214 557 2130 540 2238 545 2313 665 2315 659 2341 591 2293 563 2131 614 2543 586 2155 595 2256 600 2536 637 2145 568 2331 581 2158 546 2251 622 2400 657 2345 664 2330 622 2312 574 2099 652 2286 602 2220 631 2357 571 2301 541 2107 649 2448 570 2474 587 2092 633 2515 595 2403 580 2526 628 2574 616 2584 572 2529 594 2422 545 2174 597 2547 635 2253 626 2444 579 2239 565 2355 662 2267 588 2377 652 2188 629 2506 542 2207 625 2486 619 2334 648 2512 623 2385 634 2504 635 2271 560 2357 636 2493 575 2395 634 2276 571 2419 645 2148 647 2106 567 2453 591 2218 563 2366 657 2152 653 2319 667 2311 649 2214 590 2186 569 2193 608 2386 540 2265 585 2288 611 2508 595 2158 618 2497 551 2163 547 2125 584 2368 561 2314 612 2458 645 2551 580 2511 659 2294 594 2515 663 2306 568 2345 568 2145 636 2556 616 2482 622 2489 566 2423 649 2378 633 2321 615 2550 575 2535 542 2169 658 2198 639 2564 549 2272 577 2538 652 2216 592 2571 560 2158 571 2508 661 2290 602 2347 629 2482 571 2257 652 2363 613 2520 638 2304 591 2506 624 2343 643 2135 562 2381 567 2414 662 2219 564 2359 637 2174 584 2490 559 2122 632 2556 588 2414 538 2190 594 2318 575 2513 655 2350 610 2533 581 2519 598 2431 654 2247 633 2179 617 2447 584 2087 582 2284 590 2533 601 2381 581 2230 622 2318 641 2301 601 2375 640 2399 622 2563 641 2362 640 2312 641 2521 635 2440 640 2507 590 2340 591 2381 558 2162 584 2239 568 2276 544 2330 573 2248 577 2221 587 2195 586 2139 606 2423 615 2455 606 2505 548 2247 647 2293 571 2240 563 2206 549 2189 615 2512 648 2117 587 2219 604 2500 634 2194 582 2447 586 2353 542 2137 602 2319 556 2268 587 2461 657 2361 603 2487 666 2265 609 2346 537 2259 573 2414 645 2498 625 2301 603 2492 565 2119 603 2292 618 2366 579 2207 562 2136 580 2106 596 2408 557 2180 648 2284 631 2306 578 2307 665 2247 622 2365 556 2213 669 2350 543 2090 611 2331 570 2296 583 2523 589 2335 608 2414 573 2193 583 2250 552 2170 654 2193 569 2167 595 2208 584 2402 567 2084 560 2238 542 2323 555 2311 614 2451 582 2314 651 2148 565 2296 589 2117 635 2213 564 2248 662 2278 629 2280 575 2542 548 2302 604 2548 642 2255 554 2366 570 2119 609 2297 603 2449 620 2485 612 2526 592 2483 544 2190 628 2468 580 2459 630 2248 560 2308 655 2446 655 2511 595 2475 599 2496 577 2314 644 2140 624 2262 596 2561 581 2269 562 2340 591 2192 548 2291 559 2109 659 2474 627 2319 644 2460 566 2418 630 2540 559 2335 543 2123 581 2484 582 2143 658 2203 630 2340 570 2461 547 2283 645 2181 634 2539 651 2267 552 2094 537 2249 624 2534 555 2107 646 2476 665 2272 656 2371 549 2210 579 2189 557 2113 660 2440 566 2184 551 2253 544 2142 630 2487 602 2415 654 2221 607 2289 633 2224 651 2506 650 2208 552 2104 570 2189 567 2439 602 2553 598 2421 591 2410 657 2426 620 2531 553 2071 656 2329 546 2308 555 2165 669 2323 578 2383 638 2366 587 2316 549 2322 635 2381 545 2241 651 2335 648 2299 576 2470 656 2354 604 2524 644 2261 607 2331 590 2501 665 2255 564 2282 624 2287 586 2373 549 2233 644 2110 596 2481 539 2312 645 2521 643 2539 617 2462 650 2525 579 2299 642 2219 552 2218 552 2266 636 2411 565 2370 639 2548 642 2123 560 2288 597 2533 552 2151 653 2308 624 2559 609 2487 651 2175 622 2464 639 2152 578 2477 633 2377 627 2435 588 2512 591 2405 612 2415 645 2274 627 2556 665 2240 654 2488 566 2202 657 2226 570 2449 657 2279 653 2201 595 2511 642 2453 565 2189 580 2289 629 2552 591 2446 624 2503 581 2441 653 2258 587 2466 553 2088 557 2096 657 2502 548 2073 649 2277 587 2123 627 2243 660 2415 598 2503 651 2491 660 2183 624 2355 617 2424 626 2273 598 2356 547 2078 641 2319 639 2376 599 2278 600 2393 648 2349 590 2113 656 2522 610 2364 647 2340 654 2416 608 2455 636 2239 649 2248 621 2443 567 2124 576 2177 619 2341 638 2485 581 2102 651 2443 557 2352 642 2525 641 2285 540 2294 550 2316 598 2320 654 2275 644 2278 666 2260 564 2253 579 2545 632 2461 619 2536 652 2152 558 2205 655 2184 604 2267 646 2323 618 2361 618 2346 597 2250 623 2567 588 2486 653 2139 558 2260 651 2226 631 2382 575 2403 612 2368 629 2421 620 2301 597 2231 657 2470 553 2287 646 2123 641 2197 637 2460 582 2306 630 2438 551 2182 561 2117 658 2375 580 2264 661 2431 565 2111 595 2383 543 2280 605 2480 665 2344 608 2519 663 2302 622 2296 583 2210 657 2311 653 2531 658 2241 572 2424 617 2432 661 2212 582 2329 547 2151 594 2213 642 2469 655 2112 560 2102 653 2376 651 2544 573 2273 639 2187 555 2135 667 2289 553 2274 586 2227 565 2165 625 2480 638 2157 637 2348 579 2098 575 2301 598 2224 621 2283 583 2515 544 2274 599 2400 650 2549 577 2272 649 2487 596 2352 599 2215 557 2293 562 2201 658 2164 631 2446 601 2342 634 2398 546 2156 538 2209 572 2379 593 2304 617 2541 664 2326 577 2437 552 2293 581 2111 629 2287 607 2372 622 2370 579 2194 590 2426 589 2523 590 2223 651 2467 593 2452 634 2525 660 2254 547 2161 646 2386 585 2343 645 2225 607 2526 608 2302 608 2395 563 2299 648 2540 651 2235 586 2263 605 2440 629 2393 631 2317 595 2275 571 2489 601 2560 645 2556 558 2153 611 2354 553 2306 558 2185 568 2444 573 2290 604 2531 575 2442 593 2269 645 2334 596 2166 642 2238 580 2398 561 2345 562 2086 622 2545 567 2289 640 2148 552 2138 555 2227 618 2475 651 2424 604 2459 663 2297 666 2364 642 2511 567 2389 592 2519 634 2456 633 2473 608 2562 540 2223 620 2325 574 2390 555 2223 637 2288 644 2561 628 2428 653 2359 567 2434 572 2176 605 2247 633 2436 640 2443 598 2264 593 2323 619 2352 569 2410 554 2233 634 2294 625 2339 577 2344 551 2131 549 2199 625 2391 572 2316 571 2430 593 2536 633 2427 602 2578 615 2477 598 2177 584 2503 567 2385 655 2211 567 2257 669 2337 668 2341 636 2446 617 2503 568 2140 639 2281 584 2199 547 2170 568 2483 647 2344 605 2352 569 2469 638 2341 545 2222 615 2499 605 2336 575 2080 635 2234 571 2231 621 2375 579 2086 643 2294 617 2471 580 2425 584 2280 658 2517 575 2368 644 2177 657 2218 608 2579 593 2198 579 2169 567 2244 568 2457 631 2388 599 2196 588 2401 615 2429 600 2228 553 2354 578 2216 623 2457 615 2440 591 2162 611 2335 585 2390 644 2200 593 2546 638 2222 653 2231 599 2205 573 2227 662 2362 641 2203 632 2404 661 2282 599 2186 629 2414 614 2490 597 2296 617 2439 579 2504 659 2497 576 2319 551 2204 634 2244 572 2524 600 2247 607 2360 658 2411 612 2393 630 2546 584 2310 643 2168 549 2146 644 2479 554 2124 652 2171 645 2252 541 2127 660 2407 583 2507 623 2413 566 2216 543 2115 656 2493 640 2473 607 2432 577 2116 588 2251 591 2260 664 2234 543 2296 631 2349 583 2537 566 2429 572 2130 561 2147 567 2129 569 2478 600 2460 632 2328 577 2235 653 2166 649 2373 557 2201 585 2188 668 2333 599 2447 540 2146 590 2389 639 2438 654 2127 636 2571 638 2136 650 2535 619 2420 631 2409 644 2545 567 2158 608 2306 576 2112 640 2131 583 2435 548 2278 588 2205 562 2244 625 2267 627 2328 601 2369 595 2466 646 2493 583 2163 643 2345 638 2529 634 2203 652 2347 584 2418 650 2461 598 2576 657 2142 649 2405 653 2412 637 2534 606 2496 631 2369 606 2376 577 2132 639 2502 630 2535 641 2410 630 2213 539 2219 598 2551 655 2383 604 2252 558 2234 582 2091 586 2396 613 2559 569 2265 553 2279 578 2128 660 2384 645 2443 576 2340 548 2335 650 2329 607 2451 587 2457 600 2573 662 2357 632 2299 624 2452 577 2421 615 2495 596 2291 592 2282 610 2548 657 2137 647 2314 547 2113 572 2261 572 2485 584 2149 654 2429 660 2392 622 2291 597 2334 589 2493 583 2301 604 2389 615 2532 622 2539 572 2236 635 2281 595 2284 635 2392 576 2137 563 2099 640 2179 577 2492 640 2274 635 2561 583 2133 618 2404 644 2484 592 2247 600 2283 556 2091 586 2176 619 2457 600 2511 608 2462 558 2284 603 2454 552 2299 611 2420 663 2388 657 2397 554 2189 558 2247 575 2208 632 2238 619 2560 585 2551 623 2572 604 2464 592 2417 544 2257 610 2428 657 2178 564 2141 595 2388 576 2449 536 2280 601 2308 622 2517 567 2321 663 2225 557 2171 575 2104 567 2366 598 2325 635 2423 557 2361 601 2361 549 2243 649 2410 658 2193 627 2351 581 2173 567 2134 601 2515 570 2206 660 2332 540 2175 590 2374 568 2394 626 2365 622 2359 573 2126 649 2244 571 2161 597 2417 577 2259 651 2253 661 2249 613 2376 593 2145 656 2387 605 2571 588 2430 656 2253 602 2333 628 2313 657 2285 542 2132 627 2292 561 2267 589 2108 590 2350 577 2094 634 2248 624 2396 551 2338 636 2199 573 2268 603 2230 602 2274 608 2515 639 2422 640 2333 593 2392 666 2284 542 2317 649 2185 629 2478 582 2319 639 2477 574 2323 625 2248 604 2474 560 2377 564 2392 564 2152 591 2359 589 2158 662 2320 645 2246 570 2518 654 2239 658 2488 587 2408 598 2442 645 2408 603 2430 613 2538 610 2502 581 2153 626 2542 647 2256 589 2143 583 2218 555 2101 574 2278 590 2528 571 2113 649 2517 623 2475 576 2409 559 2190 584 2129 587 2166 560 2372 624 2496 633 2365 543 2262 604 2303 596 2527 628 2460 648 2195 555 2263 623 2304 611 2401 629 2399 598 2455 621 2551 537 2269 656 2457 649 2354 615 2505 607 2553 597 2340 626 2492 643 2358 556 2331 597 2413 538 2300 652 2280 657 2301 633 2286 600 2387 585 2103 577 2165 602 2405 640 2427 583 2411 582 2376 639 2387 634 2262 601 2337 600 2288 668 2298 580 2371 646 2270 581 2353 569 2504 587 2362 609 2568 610 2482 652 2368 583 2464 637 2218 659 2435 629 2568 637 2318 588 2243 570 2400 640 2164 561 2127 646 2466 616 2571 563 2220 607 2262 588 2326 579 2466 646 2451 591 2355 604 2419 560 2318 589 2538 576 2373 644 2207 561 2073 608 2557 575 2202 571 2220 592 2252 626 2549 644 2266 571 2441 539 2255 576 2426 627 2523 593 2176 624 2528 632 2267 659 2336 640 2448 646 2172 661 2379 589 2131 613 2580 576 2351 634 2466 618 2356 563 2386 602 2507 596 2310 652 2104 576 2432 570 2102 552 2331 554 2358 600 2271 554 2347 622 2379 633 2510 592 2396 574 2385 550 2224 619 2389 622 2349 593 2298 620 2410 596 2379 648 2153 619 2452 650 2419 544 2085 564 2376 590 2211 589 2308 627 2386 596 2260 626 2347 646 2428 576 2160 592 2167 618 2526 595 2220 572 2310 554 2144 619 2521 580 2323 640 2141 609 2339 657 2306 594 2500 641 2174 579 2402 631 2209 552 2196 571 2136 548 2297 600 2192 662 2263 591 2314 562 2350 578 2327 587 2444 625 2507 586 2267 646 2534 593 2541 557 2086 599 2211 653 2515 543 2245 659 2222 536 2244 626 2424 542 2250 566 2327 656 2420 541 2286 629 2224 609 2320 560 2175 647 2364 635 2161 629 2499 569 2281 644 2160 587 2435 590 2439 575 2121 600 2313 636 2432 594 2427 591 2256 582 2245 652 2108 650 2496 576 2498 604 2435 562 2179 641 2233 590 2554 654 2498 634 2488 647 2203 568 2285 567 2091 561 2167 638 2396 651 2483 582 2334 539 2305 638 2337 544 2227 618 2547 569 2210 547 2268 586 2556 604 2542 536 2234 651 2397 630 2528 582 2179 586 2330 567 2381 588 2475 573 2147 648 2359 546 2105 627 2238 579 2281 537 2274 636 2551 595 2162 645 2187 553 2157 615 2460 573 2479 560 2275 668 2305 657 2268 645 2114 620 2555 652 2134 570 2088 563 2193 575 2264 633 2187 626 2308 572 2305 636 2544 579 2199 546 2135 558 2081 634 2228 563 2303 659 2403 646 2422 637 2170 574 2186 604 2396 650 2290 659 2274 551 2076 589 2561 543 2233 562 2259 566 2240 634 2335 641 2417 552 2246 592 2288 663 2230 626 2472 562 2323 651 2388 627 2374 584 2358 562 2161 573 2140 545 2203 653 2159 654 2340 659 2450 584 2205 646 2101 656 2527 599 2475 583 2474 542 2157 557 2139 569 2180 638 2455 624 2440 581 2339 609 2436 601 2528 573 2407 578 2249 560 2197 549 2119 590 2470 544 2289 647 2415 572 2347 594 2370 548 2341 598 2541 647 2527 619 2508 574 2169 633 2533 567 2270 578 2552 598 2301 632 2451 623 2332 587 2213 648 2382 629 2302 557 2299 655 2464 613 2381 597 2329 615 2472 648 2136 615 2434 587 2284 599 2469 648 2240 635 2373 659 2462 543 2303 653 2474 541 2164 649 2436 648 2432 589 2544 561 2213 594 2153 597 2363 655 2440 589 2270 654 2263 579 2390 594 2565 638 2293 571 2371 579 2416 617 2515 658 2159 581 2451 652 2304 597 2347 603 2224 637 2404 596 2173 597 2201 661 2245 599 2521 614 2554 644 2215 638 2192 577 2286 653 2314 619 2396 589 2231 574 2243 550 2345 655 2206 577 2486 634 2183 641 2324 572 2499 662 2400 569 2495 638 2210 567 2406 584 2274 568 2358 579 2212 668 2276 628 2254 587 2453 576 2507 621 2469 564 2274 592 2332 654 2243 646 2502 584 2470 627 2369 589 2238 585 2423 635 2360 538 2195 559 2327 553 2117 593 2457 640 2118 582 2124 601 2546 603 2259 595 2470 560 2225 572 2342 630 2201 583 2386 661 2196 648 2261 661 2352 593 2337 560 2230 648 2305 600 2352 570 2151 581 2258 644 2517 571 2081 572 2076 567 2338 589 2100 537 2214 569 2376 637 2265 641 2270 593 2461 575 2334 628 2513 649 2111 604 2243 627 2578 603 2356 556 2219 636 2257 606 2538 590 2366 554 2324 631 2258 578 2356 646 2506 568 2223 658 2172 583 2223 563 2335 626 2361 618 2414 593 2489 583 2498 645 2439 570 2335 613 2445 589 2480 562 2293 556 2315 577 2182 551 2111 541 2101 563 2330 575 2085 566 2262 575 2453 623 2447 566 2175 599 2486 543 2195 663 2372 643 2194 655 2147 565 2229 543 2269" fill="none" stroke="none" marker-start="url(#mGr)" marker-mid="url(#mGr)" marker-end="url(#mGr)"/>
<path d="M504 2071 513 2237 536 2108 521 2170 522 2015 680 2231 660 2449 523 2082 564 2040 544 2533 529 2261 509 2203 664 2123 509 2275 725 2240 705 2303 727 2176 782 2159 678 2242 582 2055 678 2303 561 2017 655 2087 664 2541 497 2116 510 2064 729 2368 497 2056 719 2242 501 2181 684 2031 504 2106 652 2064 499 2170 713 2440 525 2391 676 2273 707 2168 736 2196 747 2423 703 2412 502 2025 443 2201 696 2444 674 2464 485 2211 578 2112 509 2348 528 2127 709 2396 549 2451 519 2317 685 2118 560 2027 540 2057 701 2224 578 2574 687 2134 680 2450 524 2182 552 2411 549 2024 557 2473 662 2410 499 2279 529 2059 601 2578 551 2207 670 2190 507 2051 529 2229 695 2178 685 2355 867 2282 535 2360 498 2087 569 2020 508 2317 707 2147 686 2464 717 2200 467 2245 543 2463 670 2513 589 2574 595 2589 588 2114 544 2069 644 2108 787 2117 627 2574 533 2419 506 2334 533 2081 542 2506 690 2064 688 2245 686 2324 528 2285 552 2037 736 2207 558 2114 525 2213 558 2447 553 2397 513 2253 670 2142 681 2180 516 2159 545 2377 521 2356 672 2209 688 2396 493 2168 682 2049 672 2356 465 2267 713 2020 720 2121 575 2030 515 2185 536 2010 556 2535 517 2338 700 2238 794 2329 682 2342 521 2245 490 2179 521 2050 755 2382 568 2575 693 2105 664 2511 686 2370 531 2021 493 2107 453 2393 518 2264 716 2218 691 2300 694 2008 511 2018 543 2522 664 2423 517 2095 516 2071 500 2219 666 2346 785 2259 545 2348 545 2497 670 2285 555 2495 741 2301 689 2068 703 2257 792 2056 516 2149 684 2170 509 2082 523 2370 689 2233 536 2346 713 2188 695 2427 686 2194 487 2257 527 2114 584 2097 561 2519 692 2289 542 2415 521 2297 662 2056 529 2329 469 2089 481 2177 727 1980 477 2150 519 2281 672 2130 680 2199 674 2403 529 2303 434 2276 516 2382 678 2418 689 2433 668 2376 699 2323 680 2381 667 2109 575 2564 578 2080 497 2044 708 2293 680 2156 652 2566 680 2264 716 2271 520 2040 505 2247 586 2585 769 2189 526 2380 532 2430 727 2136 679 2099 708 2277 554 2485 525 2069 575 2065 486 2238 563 2543 548 2178 471 2312 530 2173 535 2036 494 1945 702 2427 682 2293 550 2055 521 2221 766 2234 711 2402 731 2445 667 2066 435 2206 698 2359 560 2563 507 2039 696 2344 715 2213 496 2097 715 2359 367 2333 703 2130 537 2482 676 2114 699 2038 510 2288 497 2398 701 2187 534 2067 521 2193 693 2258 518 2327 519 2061 494 2075 534 2370 723 2213 761 2436 792 2236 465 2447 536 2024 693 2377 499 2265 560 2094 507 2135 755 2378 568 2116 674 2487 544 2367 480 2283 791 2129 662 2479 705 2351 660 2548 702 2313 528 2401 668 2464 704 2267 692 2435 681 2146 511 2308 540 2473 408 2317 695 2022 676 2519 529 2149 768 2414 524 2030 689 2314 676 2392 641 2061 580 2039 525 2272 537 2439 462 2283 669 2021 678 2253 523 2522 658 2407 510 2168 793 2047 453 1927 678 2219 513 2126 642 2076 667 2518 529 2094 683 2209 511 2435 543 2390 692 2387 525 2140 487 2288 569 2550 564 2073 501 2235 508 2299 713 2257 500 2310 556 2430 859 2226 550 2090 553 2547 666 2445 470 2184 695 2144 501 2160 501 2115 563 2054 515 2110 488 2058 481 2269 441 2110 557 2511 668 2160 678 2433 513 2031 540 2088 529 2312 806 2331 550 2441 717 2207 670 2368 544 2043 640 2118 554 2045 519 2203 661 2075 685 2407 699 2282 553 2462 639 2568 646 2091 704 2205 454 2136 670 2178 549 2479 556 2061 679 2315 684 2518 695 2121 535 2046 658 2550 509 2269 667 2085 545 2425 506 2372 476 2214 548 2110 495 2129 499 2150 526 2346 452 2291 570 2090 534 2385 529 2160 521 1916 715 2231 554 2071 666 2095 537 2456 693 2157 537 2406 695 2516 738 2103 711 2241 696 2475 673 2502 450 2393 686 2334 471 2339 420 2226 495 2142 702 2333 476 2085 499 2206 507 2094 662 2499 546 2013 694 2213 566 2063 792 2203 586 2066 429 2038 692 2201 505 2193 690 2273 812 2308 510 2221 458 2189 572 2047 658 2529 443 2104 731 2089 677 2475 668 2241 704 2154" fill="none" stroke="none" marker-start="url(#mLr)" marker-mid="url(#mLr)" marker-end="url(#mLr)"/>
<path d="M625 2504 624 2388 621 2570 619 2511 622 2531 671 2068 597 2346 713 2020 613 2461 719 2242 576 2252 616 2579 699 2038 674 2173 668 2101 630 2484 606 2444 634 2312 625 2559 632 2438 787 2117 630 2407 689 2314 599 2292 647 2194 766 2234 630 2325 626 2524 791 2129 639 2203 633 2244 594 2427 643 2345 605 2515 600 2355 615 2524 656 2267 687 2123 608 2485 651 2276 643 2401 785 2259 651 2327 683 2089 628 2477 600 2475 628 2340 632 2498 655 2103 660 2221 643 2372 476 2085 604 2388 606 2507 583 2415 625 2546 646 2255 687 2127 594 2492 657 2314 660 2233 685 2245 652 2404 548 2178 613 2478 665 2145 597 2379 707 2178 621 2485 655 2172 626 2538 615 2470 806 2331 706 2280 600 2364 632 2425 637 2346 586 2307 625 2494 652 2212 703 2412 657 2162 643 2225 685 2147 651 2134 683 2101 607 2472 663 2279 673 2324 668 2160 741 2301 615 2537 606 2546 639 2409 731 2089 859 2226 619 2550 551 2207 628 2241 614 2574 634 2351 578 2267 632 2516 611 2531 812 2308 626 2331 643 2242 625 2418 645 2288 657 2199 594 2370 581 2166 664 2134 652 2125 631 2379 663 2033 645 2150 663 2331 634 2231 624 2375 634 2288 643 2277 610 2569 647 2231 621 2457 621 2433 630 2299 609 2559 617 2493 603 2336 580 2325 586 2474 605 2497 587 2296 599 2269 640 2145 665 2363 634 2392 651 2312 604 2524 624 2468 573 2315 631 2220 631 2451 793 2047 603 2535 667 2182 694 2187 694 2008 673 2259 604 2408 615 2501 640 2184 596 2412 671 2054 634 2468 639 2299 597 2443 617 2563 747 2423 605 2456 578 2150 632 2273 669 2212 626 2353 690 2255 595 2516 625 2364 621 2398 738 2103 624 2444" fill="none" stroke="none" marker-start="url(#mDr)" marker-mid="url(#mDr)" marker-end="url(#mDr)"/>
<g stroke="#c8102e" stroke-width="4.6" stroke-dasharray="4.4 6.1">
<line x1="571.7" y1="1823.4" x2="571.7" y2="2607.8"/>
<line x1="654.9" y1="1823.4" x2="654.9" y2="2607.8"/>
<line x1="250.8" y1="2530.3" x2="975" y2="2530.3"/>
</g>
<line x1="1187.4" y1="1825" x2="1187.4" y2="2614.6" stroke="#d6d6d6" stroke-width="2"/>
<line x1="1187.4" y1="2614.6" x2="1900.2" y2="2614.6" stroke="#d6d6d6" stroke-width="2"/>
<line x1="1187.4" y1="1825" x2="1900.2" y2="1825" stroke="#d6d6d6" stroke-width="2"/>
<line x1="1900.2" y1="1825" x2="1900.2" y2="2614.6" stroke="#d6d6d6" stroke-width="2"/>
<line x1="1179.4" y1="2580.4" x2="1187.4" y2="2580.4" stroke="#c8c8c8" stroke-width="1.5"/>
<text x="1169.4" y="2593.9" text-anchor="end" class="vt">0</text>
<line x1="1179.4" y1="2484.3" x2="1187.4" y2="2484.3" stroke="#c8c8c8" stroke-width="1.5"/>
<text x="1169.4" y="2497.8" text-anchor="end" class="vt">4</text>
<line x1="1179.4" y1="2388.2" x2="1187.4" y2="2388.2" stroke="#c8c8c8" stroke-width="1.5"/>
<text x="1169.4" y="2401.7" text-anchor="end" class="vt">8</text>
<line x1="1179.4" y1="2292.0" x2="1187.4" y2="2292.0" stroke="#c8c8c8" stroke-width="1.5"/>
<text x="1169.4" y="2305.5" text-anchor="end" class="vt">12</text>
<line x1="1179.4" y1="2195.9" x2="1187.4" y2="2195.9" stroke="#c8c8c8" stroke-width="1.5"/>
<text x="1169.4" y="2209.4" text-anchor="end" class="vt">16</text>
<line x1="1179.4" y1="2099.8" x2="1187.4" y2="2099.8" stroke="#c8c8c8" stroke-width="1.5"/>
<text x="1169.4" y="2113.3" text-anchor="end" class="vt">20</text>
<line x1="1179.4" y1="2003.7" x2="1187.4" y2="2003.7" stroke="#c8c8c8" stroke-width="1.5"/>
<text x="1169.4" y="2017.2" text-anchor="end" class="vt">24</text>
<line x1="1179.4" y1="1907.6" x2="1187.4" y2="1907.6" stroke="#c8c8c8" stroke-width="1.5"/>
<text x="1169.4" y="1921.1" text-anchor="end" class="vt">28</text>
<line x1="1205.1" y1="2614.6" x2="1205.1" y2="2623.1" stroke="#c8c8c8" stroke-width="1.5"/>
<text x="1217.1" y="2667.6" text-anchor="middle" class="vt">-8</text>
<line x1="1295.2" y1="2614.6" x2="1295.2" y2="2623.1" stroke="#c8c8c8" stroke-width="1.5"/>
<text x="1295.2" y="2667.6" text-anchor="middle" class="vt">-6</text>
<line x1="1385.3" y1="2614.6" x2="1385.3" y2="2623.1" stroke="#c8c8c8" stroke-width="1.5"/>
<text x="1385.3" y="2667.6" text-anchor="middle" class="vt">-4</text>
<line x1="1475.4" y1="2614.6" x2="1475.4" y2="2623.1" stroke="#c8c8c8" stroke-width="1.5"/>
<text x="1475.4" y="2667.6" text-anchor="middle" class="vt">-2</text>
<line x1="1565.5" y1="2614.6" x2="1565.5" y2="2623.1" stroke="#c8c8c8" stroke-width="1.5"/>
<text x="1565.5" y="2667.6" text-anchor="middle" class="vt">0</text>
<line x1="1655.6" y1="2614.6" x2="1655.6" y2="2623.1" stroke="#c8c8c8" stroke-width="1.5"/>
<text x="1655.6" y="2667.6" text-anchor="middle" class="vt">2</text>
<line x1="1745.7" y1="2614.6" x2="1745.7" y2="2623.1" stroke="#c8c8c8" stroke-width="1.5"/>
<text x="1745.7" y="2667.6" text-anchor="middle" class="vt">4</text>
<line x1="1835.8" y1="2614.6" x2="1835.8" y2="2623.1" stroke="#c8c8c8" stroke-width="1.5"/>
<text x="1835.8" y="2667.6" text-anchor="middle" class="vt">6</text>
<text transform="translate(1050.7,2161) rotate(-90)" text-anchor="middle" class="ax">-log10 adj. p-value</text>
<text x="1567.8" y="2710.7" text-anchor="middle" class="ax2">log2 FC</text>
<text x="1563.7" y="1794.3" text-anchor="middle" class="st">ChIP-seq</text>
<path d="M1648 2521 1409 2424 1462 2354 1492 2354 1461 2491 1494 2408 1483 2468 1471 2404 1516 2456 1416 2327 1462 2459 1536 2499 1654 2470 1421 2365 1454 2487 1441 2475 1445 2373 1479 2498 1516 2573 1426 2497 1465 2455 1435 2313 1504 2567 1492 2388 1685 2466 1472 2305 1457 2348 1429 2301 1494 2349 1552 2533 1618 2522 1476 2545 1421 2516 1513 2481 1469 2489 1509 2438 1500 2546 1454 2397 1563 2579 1446 2508 1416 2383 1509 2571 1480 2513 1605 2539 1683 2423 1447 2493 1651 2465 1496 2552 1406 2375 1429 2548 1518 2426 1643 2556 1487 2473 1657 2399 1453 2424 1416 2396 1429 2536 1670 2416 1678 2482 1637 2570 1531 2557 1681 2395 1659 2492 1414 2499 1429 2446 1656 2520 1628 2571 1470 2396 1466 2435 1423 2404 1421 2456 1426 2335 1529 2497 1419 2464 1474 2488 1616 2567 1648 2514 1496 2495 1451 2530 1420 2321 1654 2525 1543 2559 1548 2510 1597 2554 1433 2362 1482 2305 1483 2485 1537 2558 1471 2377 1599 2577 1455 2540 1423 2300 1655 2425 1445 2472 1419 2401 1421 2446 1455 2415 1409 2454 1464 2444 1474 2366 1511 2417 1411 2361 1466 2383 1491 2463 1460 2537 1485 2308 1597 2561 1419 2311 1460 2407 1486 2461 1633 2530 1450 2309 1410 2338 1521 2503 1494 2392 1424 2312 1584 2580 1458 2296 1469 2463 1473 2513 1474 2321 1464 2563 1534 2552 1414 2333 1440 2528 1546 2554 1539 2505 1425 2532 1685 2481 1691 2384 1674 2519 1556 2576 1498 2388 1479 2334 1594 2574 1452 2525 1463 2449 1498 2482 1437 2348 1496 2365 1630 2544 1612 2517 1644 2471 1443 2433 1451 2378 1482 2415 1473 2568 1655 2433 1529 2483 1439 2341 1418 2521 1607 2527 1466 2399 1483 2440 1435 2437 1476 2370 1663 2528 1548 2547 1406 2382 1504 2524 1650 2528 1600 2570 1503 2376 1481 2344 1497 2423 1438 2441 1678 2497 1485 2407 1492 2524 1507 2379 1511 2522 1512 2526 1440 2514 1405 2411 1467 2356 1438 2447 1481 2556 1414 2461 1443 2495 1455 2551 1458 2291 1658 2405 1409 2462 1435 2460 1476 2382 1477 2530 1669 2474 1665 2400 1626 2513 1479 2378 1501 2439 1505 2539 1544 2500 1473 2473 1530 2550 1666 2447 1439 2523 1472 2371 1406 2433 1497 2469 1499 2576 1449 2298 1422 2353 1444 2351 1462 2510 1460 2478 1561 2555 1495 2517 1685 2412 1421 2474 1510 2465 1639 2499 1666 2510 1607 2545 1441 2321 1652 2422 1689 2437 1547 2522 1657 2419 1521 2438 1469 2311 1602 2581 1683 2417 1483 2382 1676 2471 1504 2481 1508 2504 1472 2357 1620 2547 1499 2456 1434 2318 1685 2440 1496 2502 1472 2525 1513 2486 1628 2498 1490 2544 1450 2420 1506 2548 1410 2393 1462 2426 1472 2295 1683 2461 1483 2566 1427 2437 1466 2338 1695 2441 1467 2334 1648 2559 1654 2484 1608 2566 1442 2347 1669 2434 1468 2428 1683 2494 1435 2546 1417 2470 1450 2315 1610 2551 1504 2486 1448 2503 1496 2564 1428 2315 1685 2445 1522 2471 1458 2513 1534 2546 1486 2558 1638 2456 1504 2511 1491 2483 1429 2370 1446 2336 1426 2545 1485 2538 1460 2416 1444 2562 1531 2463 1514 2563 1506 2497 1525 2570 1479 2418 1479 2373 1661 2460 1624 2575 1528 2518 1599 2544 1521 2583 1454 2382 1422 2524 1633 2551 1541 2528 1484 2435 1520 2452 1490 2446 1487 2326 1444 2488 1431 2348 1504 2579 1660 2531 1529 2530 1650 2499 1417 2515 1508 2493 1479 2535 1468 2439 1463 2360 1432 2525 1484 2399 1406 2355 1500 2525 1424 2433 1621 2487 1441 2470 1481 2475 1455 2407 1454 2460 1645 2423 1429 2379 1408 2447 1501 2476 1430 2530 1493 2454 1444 2537 1629 2533 1460 2307 1473 2492 1430 2542 1534 2507 1628 2509 1546 2574 1503 2390 1631 2485 1419 2369 1417 2439 1518 2517 1482 2329 1585 2563 1475 2332 1434 2397 1528 2511 1513 2506 1635 2547 1549 2585 1445 2518 1441 2500 1610 2534 1479 2453 1685 2389 1478 2340 1458 2317 1455 2420 1667 2499 1660 2396 1530 2576 1645 2540 1440 2387 1494 2490 1416 2358 1643 2428 1629 2565 1677 2447 1648 2430 1451 2491 1523 2560 1653 2404 1625 2528 1466 2348 1638 2451 1442 2423 1625 2554 1459 2519 1676 2411 1509 2374 1435 2432 1499 2581 1551 2554 1424 2399 1514 2413 1515 2551 1667 2470 1487 2320 1506 2405 1457 2545 1697 2401 1457 2377 1542 2577 1515 2502 1674 2429 1479 2503 1450 2470 1441 2308 1461 2436 1459 2358 1555 2586 1414 2488 1670 2460 1437 2556 1482 2319 1494 2459 1487 2333 1618 2541 1477 2354 1417 2339 1412 2329 1456 2428 1633 2452 1415 2508 1487 2348 1464 2550 1637 2556 1697 2423 1406 2419 1468 2508 1454 2557 1501 2563 1461 2558 1503 2493 1425 2420 1634 2459 1661 2473 1558 2582 1461 2530 1495 2345 1439 2451 1675 2385 1421 2488 1532 2516 1470 2550 1479 2317 1496 2415 1558 2547 1690 2390 1443 2449 1496 2473 1476 2481 1413 2401 1477 2308 1422 2538 1425 2505 1466 2476 1488 2428 1691 2400 1449 2429 1652 2554 1666 2438 1475 2573 1468 2468 1497 2488 1638 2513 1697 2432 1518 2446 1484 2523 1436 2383 1663 2515 1661 2423 1439 2317 1620 2532 1672 2381 1426 2359 1654 2447 1463 2431 1451 2338 1446 2329 1438 2369 1656 2495 1640 2504 1543 2523 1465 2532 1523 2536 1649 2494 1491 2473 1677 2380 1430 2476 1525 2465 1533 2468 1408 2366 1635 2508 1439 2436 1504 2573 1694 2404 1430 2399 1541 2566 1526 2457 1475 2313 1475 2389 1492 2529 1562 2586 1442 2297 1465 2371 1650 2548 1433 2415 1469 2352 1443 2302 1514 2546 1485 2354 1482 2411 1451 2404 1496 2506 1443 2542 1690 2415 1461 2366 1683 2436 1484 2454 1421 2413 1663 2498 1689 2453 1483 2491 1421 2305 1502 2500 1513 2404 1414 2365 1425 2465 1558 2534 1640 2440 1440 2484 1471 2346 1491 2441 1554 2566 1447 2367 1612 2512 1672 2407 1693 2453 1686 2489 1509 2482 1466 2513 1535 2531 1560 2543 1460 2441 1481 2357 1640 2447 1674 2464 1544 2514 1693 2378 1598 2566 1620 2537 1442 2444 1430 2457 1456 2313 1436 2404 1465 2309 1511 2432 1620 2558 1455 2443 1499 2419 1410 2372 1432 2484 1474 2536 1611 2563 1649 2426 1486 2482 1664 2490 1428 2526 1465 2484 1405 2370 1659 2469 1448 2348 1433 2298 1459 2387 1416 2425 1470 2317 1617 2528 1602 2554 1449 2355 1502 2368 1648 2419 1461 2553 1440 2509 1678 2424 1462 2391 1476 2549 1537 2539 1649 2539 1517 2577 1586 2569 1615 2535 1539 2546 1511 2515 1677 2457 1446 2455 1650 2450 1465 2519 1501 2506 1458 2450 1474 2407 1509 2533 1476 2299 1494 2449 1484 2516 1481 2571 1435 2552 1671 2390 1518 2526 1468 2342 1463 2506 1458 2302 1665 2533 1518 2509 1444 2317 1685 2450 1679 2390 1510 2538 1505 2409 1643 2487 1508 2566 1536 2513 1451 2392 1510 2445 1498 2373 1484 2388 1656 2548 1504 2383 1468 2420 1450 2464 1532 2502 1455 2352 1509 2488 1563 2575 1634 2488 1573 2586 1685 2384 1466 2556 1664 2503 1589 2586 1589 2561 1465 2379 1507 2398 1457 2331 1458 2561 1462 2334 1449 2499 1541 2535 1549 2579 1459 2446 1447 2567 1619 2492 1634 2478 1637 2536 1485 2544 1694 2436 1621 2502 1658 2487 1699 2427 1463 2542 1618 2506 1699 2418 1456 2507 1622 2570 1432 2490 1513 2437 1450 2516 1606 2579 1475 2375 1593 2578 1641 2463 1513 2471 1429 2384 1480 2458 1693 2420 1479 2448 1494 2547 1450 2537 1432 2334 1421 2334 1471 2451 1645 2546 1640 2552 1437 2329 1629 2517 1407 2442 1552 2524 1416 2504 1679 2420 1445 2482 1496 2429 1466 2318 1502 2433 1426 2515 1666 2420 1461 2313 1488 2489 1441 2551 1430 2374 1671 2525 1687 2394 1417 2496 1489 2400 1693 2465 1644 2512 1438 2536 1499 2571 1669 2491 1534 2473 1536 2585 1421 2507 1427 2320 1676 2417 1455 2319 1505 2445 1449 2303 1442 2402 1489 2468 1460 2485 1517 2492 1406 2428 1674 2494 1452 2343 1479 2385 1534 2563 1436 2455 1509 2509 1405 2386 1412 2433 1496 2478 1479 2399 1465 2463 1513 2493 1577 2581 1517 2486 1593 2584 1466 2391 1457 2525 1538 2575 1453 2387 1604 2550 1433 2466 1491 2370 1447 2548 1510 2475 1646 2483 1598 2549 1592 2552 1494 2435 1426 2540 1405 2397 1506 2361 1671 2446 1661 2454 1528 2472 1584 2585 1523 2565 1616 2501 1503 2543 1663 2538 1460 2338 1616 2573 1438 2304 1662 2443 1588 2576 1493 2419 1453 2304 1525 2453 1423 2316 1485 2374 1477 2424 1433 2340 1522 2491 1481 2403 1450 2415 1417 2317 1478 2324 1641 2435 1593 2557 1665 2394 1600 2537 1559 2572 1642 2520 1546 2505 1551 2543 1486 2315 1469 2563 1429 2431 1500 2514 1680 2412 1476 2519 1620 2578 1627 2487 1678 2509 1669 2517 1470 2518 1439 2360 1495 2331 1462 2524 1484 2449 1474 2454 1531 2541 1454 2564 1695 2391 1448 2321 1659 2511 1646 2465 1461 2501 1435 2308 1532 2582 1438 2540 1426 2510 1658 2436 1688 2420 1625 2533 1670 2412 1483 2507 1467 2303 1653 2490 1464 2329 1435 2389 1623 2518 1438 2496 1623 2507 1514 2530 1624 2545 1420 2501 1420 2479 1413 2442 1489 2514 1462 2375 1436 2476 1487 2416 1659 2541 1437 2505 1526 2582 1646 2552 1512 2498 1445 2386 1490 2560 1660 2465 1541 2496 1468 2363 1413 2472 1654 2506 1432 2393 1479 2488 1476 2403 1680 2373 1549 2565 1685 2401 1698 2388 1406 2402 1471 2435 1458 2570 1627 2502 1505 2477 1448 2424 1434 2420 1452 2325 1490 2493 1489 2457 1434 2496 1617 2551 1458 2401 1488 2377 1428 2488 1451 2545 1438 2299 1679 2488 1617 2581 1470 2499 1491 2383 1438 2428 1624 2477 1485 2477 1454 2371 1679 2475 1671 2401 1469 2328 1412 2386 1490 2555 1510 2549 1474 2509 1526 2554 1489 2436 1649 2469 1458 2370 1698 2410 1507 2392 1540 2518 1549 2559 1550 2515 1409 2437 1492 2569 1454 2365 1492 2574 1549 2527 1410 2476 1688 2407 1666 2453 1688 2473 1650 2510 1429 2389 1498 2337 1504 2557 1513 2541 1454 2469 1507 2423 1482 2394 1669 2529 1463 2296 1490 2345 1438 2414 1518 2431 1486 2361 1469 2528 1451 2410 1471 2425 1657 2410 1643 2565 1648 2488 1637 2562 1448 2478 1459 2382 1670 2495 1427 2351 1526 2503 1697 2396 1694 2458 1491 2404 1422 2451 1611 2578 1471 2384 1525 2486 1514 2421 1626 2561 1500 2553 1415 2419 1664 2430 1525 2480 1556 2555 1502 2353 1655 2455 1534 2483 1497 2356 1436 2519 1635 2517 1529 2561 1457 2464 1486 2343 1437 2375 1635 2542 1676 2397 1452 2359 1656 2440 1637 2493 1668 2386 1518 2469 1507 2452 1511 2456 1420 2407 1624 2491 1488 2548 1421 2423 1420 2344 1640 2547 1443 2367 1651 2475 1513 2449 1474 2398 1544 2550 1413 2429 1502 2450 1443 2555 1413 2483 1676 2514 1655 2500 1414 2449 1654 2416 1453 2295 1509 2559 1510 2583 1424 2371 1530 2492 1537 2523 1511 2460 1444 2313 1430 2502 1590 2571 1517 2582 1617 2517 1605 2574 1480 2524 1517 2441 1683 2454 1644 2507 1447 2381 1428 2325 1652 2535 1488 2526 1686 2377 1622 2482 1456 2532 1430 2355 1411 2378 1435 2500 1449 2486 1522 2577 1631 2512 1540 2490 1443 2504 1604 2585 1682 2469 1657 2451 1490 2410 1466 2409 1539 2509 1428 2520 1643 2458 1531 2535 1521 2462 1640 2529 1622 2565 1503 2535 1470 2483 1405 2392 1413 2369 1682 2378 1676 2375 1605 2532 1440 2335 1521 2497 1655 2461 1488 2510 1483 2367 1418 2391 1501 2363 1470 2323 1451 2330 1672 2425 1423 2348 1513 2579 1629 2549 1467 2298 1469 2535 1692 2431 1419 2484 1426 2340 1490 2502 1524 2443 1474 2350 1633 2466 1625 2472 1473 2447 1431 2509 1473 2336 1474 2442 1477 2436 1416 2375 1503 2396 1629 2462 1692 2409 1581 2573 1624 2539 1683 2406 1680 2384 1458 2433 1662 2480 1428 2414 1480 2480 1648 2443 1431 2311 1488 2394 1519 2543 1690 2426 1483 2421 1542 2586 1661 2448 1545 2569 1491 2317 1465 2415 1434 2450 1513 2399 1615 2545 1468 2447 1428 2345 1680 2403 1411 2405 1519 2553 1453 2452 1450 2397 1456 2492 1473 2532 1639 2541 1681 2428 1538 2580 1651 2438 1483 2428 1453 2570 1445 2415 1445 2392 1664 2415 1445 2306 1446 2400 1673 2477 1613 2526 1650 2458 1426 2428 1515 2463 1479 2349 1486 2300 1499 2393 1444 2525 1450 2447 1505 2459 1424 2326 1499 2407 1593 2563 1509 2428 1476 2344 1633 2573 1533 2477 1413 2354 1518 2477 1532 2488 1527 2544 1478 2468 1645 2533 1481 2300 1607 2556 1501 2345 1486 2444 1440 2518 1637 2470 1409 2398 1411 2467 1492 2579 1611 2557 1448 2554 1618 2511 1462 2468 1420 2361 1468 2523 1495 2538 1473 2467 1539 2486 1609 2522 1444 2324 1675 2403 1432 2470 1438 2394 1637 2483 1416 2350 1457 2342 1448 2441 1449 2459 1444 2408 1672 2501 1443 2532 1625 2522 1435 2530 1453 2510 1524 2529 1545 2541 1425 2442 1638 2475 1483 2550 1425 2491 1506 2469 1410 2412 1436 2322 1665 2459 1544 2532 1425 2408 1414 2456 1438 2465 1473 2542 1481 2542 1475 2498 1509 2412 1467 2293 1497 2402 1670 2506 1496 2445 1490 2478 1434 2354 1632 2493 1666 2524 1518 2533 1492 2337 1431 2404 1444 2362 1630 2523 1509 2543 1483 2576 1497 2382 1444 2341 1444 2512 1413 2494 1428 2463 1547 2536 1433 2538 1433 2408 1478 2393 1553 2549 1425 2395 1433 2327 1428 2331 1505 2528 1491 2311 1445 2438 1633 2566 1485 2496 1470 2457 1414 2344 1488 2577 1671 2487 1470 2575 1476 2462 1421 2437 1500 2460 1489 2519 1428 2453 1688 2461 1523 2507 1556 2560 1513 2555 1637 2443 1416 2405 1614 2508 1475 2558 1517 2559 1492 2424 1514 2568 1528 2525 1448 2542 1481 2463 1423 2376 1457 2336 1678 2462 1453 2496 1617 2561 1634 2503 1510 2407 1448 2451 1476 2361 1633 2498 1698 2383 1688 2432 1485 2503 1494 2397 1433 2442 1630 2473 1497 2530 1493 2375 1450 2560 1658 2526 1479 2365 1442 2462 1444 2429 1524 2514 1676 2435 1533 2526 1416 2414 1689 2443 1415 2322 1644 2450 1469 2544 1445 2466 1677 2503 1473 2504 1624 2496 1471 2414 1509 2385 1419 2418 1409 2348 1519 2569 1690 2479 1642 2494 1645 2438 1694 2449 1433 2428 1472 2555 1665 2485 1494 2323 1472 2478 1463 2344 1487 2338 1418 2431 1662 2411 1471 2300 1478 2563 1636 2522 1437 2481 1660 2507 1679 2452 1700 2405 1560 2566 1523 2521 1453 2435 1504 2518 1553 2573 1670 2481 1456 2392 1488 2565 1454 2481 1432 2514 1508 2576 1589 2581 1457 2323 1503 2427 1433 2379 1423 2469 1561 2561 1502 2401 1629 2538 1466 2493 1489 2366 1451 2476 1654 2541 1427 2472 1484 2531 1659 2430 1499 2541 1506 2553 1667 2425 1665 2406 1688 2483 1647 2503 1476 2428 1474 2417 1610 2584 1607 2561 1564 2570 1440 2379 1610 2540 1518 2481 1424 2460 1478 2413 1669 2450 1427 2307 1458 2497 1533 2568 1457 2411 1673 2438 1426 2364 1420 2533 1465 2403 1482 2312 1645 2454 1521 2549 1462 2420 1458 2474 1578 2586 1442 2355 1679 2442 1415 2476 1630 2557 1497 2521 1670 2465 1502 2471 1454 2520 1652 2411 1507 2369 1465 2498 1465 2569 1603 2567 1478 2577 1601 2558 1443 2397 1458 2455 1488 2572 1653 2514 1514 2512 1440 2457 1642 2478 1657 2536 1674 2453 1492 2361 1488 2421 1609 2571 1533 2521 1426 2481 1642 2525 1488 2452 1429 2423 1664 2466 1644 2498 1661 2522 1490 2534 1453 2504 1463 2322 1537 2570 1423 2390 1502 2415 1421 2381 1673 2509 1555 2539 1495 2558 1461 2397 1465 2574 1541 2553 1439 2489 1534 2495 1628 2480 1501 2465 1437 2409 1643 2561 1599 2585 1495 2513 1657 2478 1449 2434" fill="none" stroke="none" marker-start="url(#mGc)" marker-mid="url(#mGc)" marker-end="url(#mGc)"/>
<path d="M1390 2374 1686 2571 1438 2283 1716 2453 1687 2412 1489 2581 1515 2585 1803 2403 1326 2064 1738 2404 1376 2131 1420 2291 1404 2197 1852 2387 1374 2519 1355 2456 1860 2324 1697 2570 1773 2392 1342 2415 1738 2379 1796 2378 1403 2291 1505 2584 1397 2531 1760 2414 1830 2383 1592 2587 1714 2383 1771 2355 1741 2491 1710 2363 1756 2497 1369 2442 1862 2301 1395 2208 1752 2502 1848 2331 1857 2360 1837 2354 1404 2309 1856 2365 1810 2411 1338 2433 1519 2584 1671 2541 1744 2485 1794 2400 1801 2475 1408 2498 1685 2504 1806 2389 1381 2416 1753 2280 1355 2407 1352 2227 1736 2435 1710 2533 1847 2403 1385 2497 1468 2264 1716 2328 1294 2242 1322 2425 1409 2303 1724 2457 1393 2291 1813 2385 1777 2478 1702 2506 1704 2515 1655 2414 1497 2314 1829 2389 1857 2355 1304 2400 1711 2372 1754 2391 1800 2385 1859 2307 1703 2567 1705 2392 1722 2371 1806 2377 1391 2108 1380 2459 1346 2306 1765 2386 1699 2384 1399 2482 1844 2418 1353 2499 1793 2354 1854 2315 1415 2222 1274 2266 1441 2571 1374 2450 1742 2411 1838 2219 1308 2384 1395 2466 1680 2572 1796 2347 1416 2119 1737 2367 1798 2394 1835 2358 1671 2416 1846 2339 1368 2206 1662 2547 1805 2421 1284 2129 1404 2268 1343 2443 1380 2291 1798 2416 1464 2257 1821 2465 1724 2560 1384 2438 1436 2227 1259 2205 1500 2582 1335 2459 1695 2369 1782 2462 1790 2430 1308 2373 1257 2200 1328 1890 1332 2311 1400 2454 1666 2570 1721 2449 1395 2347 1791 2465 1734 2468 1290 2332 1822 2455 1719 2412 1711 2551 1387 2287 1487 2293 1732 2495 1688 2364 1607 2584 1802 2493 1728 2452 1304 2376 1832 2431 1757 2459 1266 2229 1668 2564 1447 2279 1253 2195 1799 2514 1762 2544 1269 2247 1759 2362 1353 2435 1364 2244 1772 2430 1834 2421 1459 2160 1398 2430 1344 2139 1400 2436 1692 2571 1766 2515 1426 2284 1390 2401 1768 2529 1293 2242 1784 2530 1683 2517 1657 2571 1407 2284 1720 2554 1770 2476 1364 2393 1791 2369 1829 2324 1428 2236 1711 2280 1386 2392 1386 2149 1377 2347 1454 2240 1434 2259 1408 2525 1293 2341 1395 2332 1699 2533 1670 2575 1822 2407 1377 2399 1380 2247 1753 2443 1871 2268 1348 2396 1704 2528 1425 2276 1381 2515 1812 2450 1360 2512 1376 2224 1477 2283 1373 2539 1461 2576 1450 2572 1716 2490 1462 2265 1823 2403 1376 2285 1408 2506 1685 2382 1278 2281 1765 2358 1372 2229 1434 2145 1333 2364 1423 2563 1347 2490 1815 2231 1817 2426 1726 2393 1443 2252 1345 2486 1394 2436 1442 2195 1385 2251 1393 2479 1734 2417 1768 2522 1669 2404 1763 2482 1243 2136 1649 2580 1311 2394 1405 2297 1693 2519 1431 2188 1363 2428 1422 2215 1404 2515 1367 2052 1484 2238 1401 2100 1820 2372 1742 2469 1716 2477 1871 2268 1840 2338 1444 2238 1297 2206 1845 2319 1337 2391 1784 2384 1287 2316 1450 2260 1328 2351 1422 2146 1761 2529 1320 2416 1407 2320 1358 2094 1721 2547 1842 2400 1379 2503 1409 2210 1733 2410 1317 2362 1852 2381 1854 2300 1342 2452 1362 2306 1395 2340 1415 2301 1670 2549 1367 2523 1385 2503 1364 2335 1399 2558 1402 2510 1328 2387 1792 2522 1421 2232 1330 2446 1275 2271 1381 2232 1747 2541 1399 2359 1706 2450 1743 2374 1485 2238 1435 2291 1393 2246 1367 2040 1828 2463 1723 2475 1358 2094 1747 2324 1774 2423 1302 2103 1730 2476 1838 2349 1821 2478 1329 2440 1820 2364 1386 2293 1357 2507 1703 2439 1836 2384 1850 2346 1388 2421 1838 2434 1371 2479 1300 2361 1386 2468 1820 2417 1420 2250 1441 2259 1353 2185 1712 2505 1398 2296 1365 2225 1861 2321 1814 2347 1728 2359 1328 2329 1783 2354 1374 2530 1792 2383 1861 2329 1263 2226 1814 2416 1838 2341 1796 2448 1296 2347 1707 2399 1826 2426 1468 2577 1745 2354 1427 2253 1617 2583 1406 2487 1415 2186 1739 2514 1289 1994 1389 2387 1735 2539 1399 2264 1381 2445 1790 2452 1384 2411 1302 2366 1383 2480 1812 2378 1355 2248 1371 2485 1676 2574 1407 2332 1726 2408 1453 2269 1855 2295 1828 2416 1711 2411 1539 2586 1476 2276 1752 2524 1858 2341 1428 2564 1400 2336 1747 2363 1381 2260 1828 2394 1399 2401 1710 2436 1656 2578 1777 2433 1337 2335 1862 2368 1413 2230 1780 2470 1763 2475 1833 2454 1401 2238 1774 2403 1410 2556 1472 2578 1860 2334 1861 2306 1777 2347 1711 2471 1818 2487 1253 2191 1790 2416 1399 2303 1404 2147 1724 2430 1718 2377 1840 2343 1827 2392 1848 2357 1322 2250 1761 2503 1480 2581 1708 2567 1752 2431 1436 2238 1319 2344 1411 2539 1699 2471 1854 2384 1440 2232 1790 2422 1741 2418 1743 2449 1311 2390 1745 2504 1830 2374 1720 2418 1719 2396 1702 2346 1321 2420 1453 2215 1816 2471 1772 2493 1812 2456 1367 2052 1751 2419 1400 2110 1476 2579 1703 2408 1712 2515 1388 2305 1394 2508 1835 2362 1366 2266 1844 2382 1682 2554 1359 2474 1414 2559 1331 2449 1454 2573 1391 2199 1762 2447 1354 2504 1371 2457 1467 2245 1399 2537 1802 2354 1778 2537 1695 2561 1740 2547 1316 2403 1400 2163 1352 2470 1646 2574 1716 2390 1704 2541 1363 2454 1429 2289 1853 2371 1749 2457 1416 2245 1791 2485 1845 2324 1384 2371 1864 2321 1857 2344 1801 2220 1783 2391 1726 2514 1384 2157 1395 2502 1704 2476 1414 2101 1819 2422 1820 2412 1400 2181 1420 2035 1776 2441 1767 2498 1426 2269 1866 2349 1749 2371 1812 2497 1691 2357 1303 2371 1697 2555 1860 2315 1392 2525 1297 2356 1426 2226 1450 2253 1802 2428 1389 2428 1858 2301 1690 2554 1731 2370 1381 2509 1753 2356 1736 2528 1728 2399 1413 2146 1767 2419 1722 2357 1302 2149 1352 2512 1397 2493 1733 2518 1832 2390 1765 2406 1253 2190 1704 2549 1768 2506 1455 2263 1697 2491 1763 2394 1828 2366 1495 2581 1735 2398 1785 2474 1360 2447 1391 2315 1404 2466 1390 2343 1792 2512 1853 2376 1763 2315 1412 2280 1753 2382 1733 2350 1374 2252 1767 2543 1717 2352 1760 2488 1701 2498 1797 2423 1734 2449 1486 2279 1369 2465 1400 2250 1784 2347 1416 2270 1788 2525 1396 2324 1434 2266 1414 2533 1772 2410 1415 2526 1809 2427 1685 2526 1749 2551 1727 2469 1794 2458 1405 2225 1725 2531 1719 2470 1397 1935 1378 2214 1296 2351 1385 2276 1368 2351 1401 2328 1718 2507 1397 2225 1795 2363 1389 2322 1709 2356 1386 2457 1713 2404 1800 2500 1758 2520 1763 2463 1705 2431 1372 2261 1451 2226 1734 2510 1442 2172 1396 2388 1377 2436 1386 2520 1794 2479 1691 2398 1820 2482 1782 2511 1778 2485 1387 2475 1739 2356 1820 2298 1411 2118 1339 2471 1391 2266 1384 2315 1771 2485 1792 2337 1404 2315 1397 2460 1838 2360 1759 2335 1743 2393 1383 2487 1319 2320 1472 2268 1361 2238 1770 2464 1386 2540 1366 2519 1380 2492 1838 2219 1335 2145 1367 2506 1690 2533 1702 2462 1784 2518 1378 2298 1390 2448 1409 2512 1398 2286 1824 2434 1743 2462 1369 2513 1392 2301 1723 2384 1679 2370 1834 2448 1390 2543 1281 2294 1711 2543 1382 2387 1391 2253 1734 2556 1401 2219 1335 2280 1398 2367 1781 2454 1364 2251 1427 2175 1368 2491 1404 2343 1788 2359 1717 2425 1418 2263 1343 2423 1379 2239 1794 2471 1283 2300 1746 2384 1650 2568 1756 2451 1704 2295 1489 2286 1839 2186 1526 2586 1730 2489 1326 2435 1297 2391 1432 2567 1789 2497 1322 2302 1809 2502 1780 2408 1384 2218 1418 2551 1391 2224 1360 2525 1843 2334 1319 2384 1546 2588 1400 2522 1773 2516 1276 2275 1397 2549 1367 2474 1359 2494 1803 2451 1783 2421 1493 2295 1370 2272 1383 2282 1835 2367 1435 2217 1729 2378 1368 2235 1797 2311 1411 2267 1459 2160 1383 2548 1749 2408 1807 2486 1280 2290 1735 2479 1814 2492 1733 2322 1313 2398 1535 2586 1420 2280 1705 2379 1458 2284 1399 2448 1262 2220 1395 2233 1717 2533 1402 2552 1754 2485 1839 2375 1718 2522 1426 2247 1362 2121 1396 2214 1363 2441 1310 2340 1462 2251 1326 2369 1324 2430 1468 2276 1720 2405 1689 2548 1728 2524 1360 2192 1397 2514 1788 2394 1718 2563 1763 2374 1784 2489 1366 2531 1752 2492 1368 2217 1374 2242 1285 2226 1823 2344 1818 2408 1393 2472 1760 2354 1284 2226 1830 2458 1456 2256 1744 2432 1404 2473 1420 2199 1375 2235 1409 2275 1598 2587 1834 2410 1472 2217 1324 2288 1664 2576 1800 2220 1759 2368 1693 2503 1644 2580 1382 2423 1710 2484 1839 2186 1360 2228 1847 2314 1279 2286 1809 2471 1462 2274 1729 2435 1768 2456 1701 2483 1244 2136 1408 2250 1712 2564 1719 2498 1479 2292 1688 2326 1412 2311 1510 2583 1410 2259 1390 2535 1837 2438 1384 2526 1350 2449 1404 2255 1394 2454 1401 2501 1830 2349 1424 2261 1405 2541 1477 2262 1339 2407 1374 2278 1771 2364 1812 2359 1763 2435 1452 2233 1451 2286 1678 2548 1382 2305 1381 2537 1772 2372 1710 2461 1364 2483 1390 2462 1758 2399 1708 2424 1462 2240 1660 2564 1393 2544 1777 2381 1690 2495 1373 2315 1813 2481 1416 2256 1828 2469 1397 2313 1411 2294 1397 2256 1422 2240 1261 2210 1331 2047 1769 2448 1399 2393 1551 2587 1403 2494 1808 2475 1389 2335 1335 2456 1805 2434 1356 2464 1696 2526 1472 2288 1386 2175 1705 2557 1811 2460 1783 2367 1709 2417 1778 2447 1809 2464 1665 2555 1332 2047 1302 2102 1390 2260 1285 2306 1841 2428 1351 2423 1748 2475 1776 2361 1744 2424 1318 2411 1409 2239 1355 2284 1582 2587 1431 2129 1346 2380 1696 2544 1405 2231 1728 2463 1456 2170 1825 2449 1327 2064 1831 2378 1405 2554 1732 2457 1762 2454 1316 2408 1393 2442 1842 2422 1675 2554 1426 2554 1354 2480 1781 2533 1787 2505 1833 2308 1440 2245 1731 2548 1613 2584 1375 2465 1678 2540 1764 2536 1800 2458 1850 2392 1788 2319 1813 2446 1446 2265 1844 2330 1375 2513 1792 2282 1788 2377 1268 2240 1393 2396 1822 2356 1728 2420 1440 2276 1377 2270 1869 2233 1739 2454 1291 2326 1798 2408 1840 2394 1409 2220 1743 2522 1270 2252 1833 2402 1704 2309 1363 2515 1802 2467 1845 2373 1444 2208 1344 2479 1375 2384 1343 2475 1743 2400 1783 2430 1798 2488 1365 2259 1729 2559 1297 2207 1776 2526 1345 2436 1432 2274 1829 2440 1445 2287 1850 2398 1825 2397 1688 2512 1790 2277 1831 2342 1332 2235 1441 2269 1393 2410 1382 2224 1387 2213 1731 2503 1794 2305 1272 2262 1413 2170 1602 2585 1795 2437 1785 2482 1390 2486 1350 2496 1789 2405 1367 2040 1778 2416 1397 2424 1832 2372 1741 2535 1721 2435 1374 2494 1396 2270 1823 2441 1813 2440 1739 2555 1689 2372 1380 2473 1700 2361 1346 2342 1268 2243 1814 2231 1530 2587 1808 2398 1805 2366 1744 2441 1315 2282 1763 2426 1806 2507 1394 2308 1378 2533 1800 2442 1335 2373 1747 2530 1388 2121 1555 2587 1388 2510 1779 2396 1391 2494 1330 2419 1400 2244 1624 2583 1810 2353 1471 2217 1844 2366 1657 2400 1513 2391 1401 2352 1697 2478 1382 2195 1332 2429 1755 2548 1739 2386 1372 2526 1270 2257 1587 2587 1376 2131 1804 2348 1848 2408 1494 2302 1267 2236 1746 2497 1733 2390 1719 2515 1679 2529 1869 2233 1302 2152 1719 2364 1373 2471 1354 2488 1714 2442 1848 2308 1851 2305 1749 2396 1382 2149 1787 2437 1346 2286 1748 2518 1862 2310 1471 2254 1328 2402 1380 2430 1811 2404 1355 2204 1836 2442 1723 2487 1682 2564 1455 2249 1396 2382 1342 2195 1661 2579 1366 2297 1785 2447 1284 2130 1385 2380 1816 2435 1725 2347 1322 2250 1794 2504 1481 2272 1445 2228 1435 2201 1409 2519 1393 2277 1757 2422 1310 2409 1369 2498 1822 2381 1719 2463 1355 2333 1684 2536 1695 2511 1757 2376 1484 2581 1857 2350 1639 2580 1824 2473 1812 2372 1383 2404 1755 2513 1435 2568 1358 2424 1363 2468 1813 2322 1854 2322 1709 2523 1391 2362 1416 2544 1387 2234 1799 2369 1394 2353 1360 2364 1404 2531 1345 2140 1733 2311 1754 2538 1421 2221 1779 2372 1293 2336 1629 2581 1398 2418 1362 2500 1802 2511 1263 2216 1577 2588 1737 2423 1856 2295 1465 2286 1287 2312 1389 2240 1817 2429 1745 2511 1727 2442 1402 2278 1752 2468 1768 2399 1707 2494 1456 2275 1348 2461 1739 2497 1769 2441 1434 2249 1463 2233 1703 2372 1398 2375 1420 2035 1306 2380 1674 2568 1329 2412 1418 2560 1634 2581 1342 2360 1759 2469 1756 2405 1757 2437 1756 2478 1444 2572 1776 2505 1774 2470 1382 2452 1772 2539 1353 2183 1290 2321 1336 2423 1769 2380 1779 2497 1338 2466 1448 2247 1722 2539 1796 2518 1411 2548 1745 2551 1385 2265 1373 2362 1335 2145 1416 2287 1816 2391 1806 2481 1817 2398 1726 2499 1362 2121 1845 2412 1458 2575" fill="none" stroke="none" marker-start="url(#mLc)" marker-mid="url(#mLc)" marker-end="url(#mLc)"/>
<path d="M1630 2454 1667 2563 1408 2544 1477 2503 1608 2507 1655 2483 1664 2488 1510 2516 1608 2524 1491 2553 1634 2491 1455 2452 1649 2507 1609 2488 1476 2485 1327 2441 1721 2487 1485 2477 1667 2411 1603 2500 1641 2529 1473 2554 1500 2478 1648 2500 1494 2522 1460 2439 1523 2495 1469 2517 1636 2544 1654 2512 1658 2490 1468 2505 1474 2440 1624 2565 1420 2542 1503 2483 1646 2525 1629 2482 1450 2446 1754 2445 1729 2459 1671 2485 1623 2555 1481 2558 1467 2511 1471 2451 1485 2483 1463 2472 1717 2474 1644 2470 1450 2490 1712 2461 1620 2488 1661 2479 1667 2458 1456 2490 1476 2568 1658 2507 1494 2561 1686 2461 1512 2473 1448 2474 1616 2570 1654 2524 1640 2537 1496 2456 1618 2482 1467 2481 1699 2438 1686 2498 1702 2557 1597 2563 1456 2519 1485 2541 1498 2467 1610 2555 1541 2555 1502 2500 1477 2524 1680 2498 1469 2531 1628 2472 1637 2471 1510 2490 1664 2494 1517 2490 1652 2552 1497 2555 1411 2354 1449 2497 1785 2489 1413 2468 1452 2504 1468 2488 1625 2491 1505 2570 1674 2514 1439 2342 1642 2554 1447 2414 1681 2488 1792 2336 1702 2345 1459 2512 1472 2543 1445 2450 1545 2572 1456 2497 1643 2546 1515 2575 1471 2498 1489 2455 1447 2317 1441 2375 1619 2470 1661 2527 1667 2468 1671 2496 1484 2438 1659 2538 1632 2498 1499 2491 1493 2529 1478 2473 1489 2568 1387 2222 1486 2534 1575 2581 1457 2445 1474 2467 1341 2367 1467 2468 1606 2494 1623 2477 1357 2362 1649 2519 1475 2478 1608 2479 1674 2401 1469 2474 1504 2489 1688 2326 1848 2330 1307 2384 1641 2477 1604 2513 1441 2498 1695 2477 1468 2461 1683 2504 1636 2550 1637 2464 1639 2559 1454 2534 1524 2501 1476 2491 1649 2546 1637 2482 1483 2520 1488 2525 1421 2431 1463 2517 1680 2511 1612 2496 1668 2502 1667 2537 1658 2438 1662 2543 1475 2560 1463 2379 1478 2383 1628 2533 1519 2542 1637 2456 1507 2497 1654 2451 1623 2459 1458 2459 1652 2536 1532 2537 1462 2546 1673 2474 1451 2511 1680 2529 1596 2531 1661 2514 1483 2490 1452 2462 1468 2548 1408 2427 1501 2563 1441 2394 1668 2528 1509 2484 1412 2394 1632 2564 1704 2294 1558 2576 1636 2511 1770 2494 1633 2476 1458 2468 1494 2537 1567 2580 1491 2494 1619 2495 1435 2352 1672 2431 1498 2545 1656 2518 1490 2469 1491 2500 1615 2537 1645 2494 1446 2468 1528 2524 1415 2427 1502 2472 1656 2498 1646 2513 1523 2563 1657 2546 1487 2559 1507 2467 1808 2441 1480 2516 1643 2430 1485 2550 1451 2484 1491 2480 1488 2507 1478 2498 1487 2461 1667 2520 1647 2541 1461 2532 1496 2474 1467 2398 1645 2452 1423 2500 1662 2473 1492 2543 1481 2507 1661 2463 1482 2529 1654 2472 1461 2451 1631 2555 1640 2489 1468 2345 1468 2537 1615 2474 1493 2485 1661 2457 1588 2576 1453 2527 1679 2478 1478 2449 1678 2522 1450 2553 1484 2498 1655 2463 1482 2564 1687 2492 1609 2467 1673 2463 1454 2472 1480 2457 1467 2438 1463 2485 1419 2457 1475 2548 1478 2541 1474 2519 1475 2512 1475 2531 1641 2570 1453 2439 1446 2441 1447 2479 1675 2491 1655 2530 1618 2464 1393 2443 1419 2485 1675 2504 1462 2538 1492 2449 1532 2572 1502 2459 1460 2507 1445 2457 1649 2557 1482 2334 1674 2531 1687 2485 1515 2498 1454 2365 1530 2509 1464 2499 1493 2516 1693 2537 1462 2525 1476 2394 1740 2546 1468 2524 1510 2559 1623 2516 1515 2480 1483 2452 1662 2503 1746 2517 1646 2534 1600 2520 1645 2459 1604 2485 1473 2457 1350 2484 1684 2516 1505 2477 1458 2561 1606 2572 1471 2414 1668 2510 1479 2535 1485 2444 1465 2446 1648 2479 1662 2394 1450 2403 1630 2463 1487 2515 1455 2479 1523 2511 1484 2468 1614 2502 1467 2494 1629 2549 1494 2462 1462 2479 1532 2515 1379 2423 1495 2508 1466 2456 1766 2468 1647 2487 1623 2572 1480 2464 1496 2567 1669 2479 1679 2472" fill="none" stroke="none" marker-start="url(#mDc)" marker-mid="url(#mDc)" marker-end="url(#mDc)"/>
<path d="M1558 2575 1531 2527 1529 2531 1618 2507 1521 2538 1532 2563 1555 2568 1594 2544 1532 2543 1510 2565 1511 2552 1602 2530 1554 2562 1619 2522 1503 2535 1508 2545 1527 2545 1513 2537 1610 2538 1630 2512 1502 2501 1630 2517 1578 2575 1560 2582 1532 2534 1543 2575 1554 2578 1540 2548 1521 2521 1634 2505 1617 2551 1625 2503 1564 2581 1596 2564 1575 2578 1601 2536 1579 2581 1633 2514 1610 2564 1502 2514 1522 2555 1598 2537 1528 2560 1517 2511 1526 2549 1551 2564 1583 2581 1590 2557 1521 2516 1637 2517 1517 2534 1507 2503 1607 2555 1628 2499 1633 2500 1513 2568 1632 2527 1518 2539 1510 2523 1639 2509 1615 2558 1627 2536 1536 2545 1526 2525 1526 2537 1547 2547 1531 2551 1506 2530 1610 2518 1512 2509 1525 2559 1521 2507 1524 2513 1504 2505 1544 2569 1521 2512 1586 2567 1515 2551 1550 2576 1539 2568 1636 2502 1527 2568 1536 2564 1581 2578 1544 2544 1534 2539 1614 2539 1622 2509 1547 2561 1534 2553 1554 2573 1624 2522 1616 2542 1550 2558 1537 2533 1519 2544 1629 2524 1608 2551 1598 2566 1611 2556 1635 2521 1533 2524 1518 2567 1598 2558 1504 2539 1604 2563 1531 2577 1545 2581 1505 2543 1510 2561 1616 2535 1614 2517 1589 2569 1522 2572 1513 2521 1599 2548 1612 2514 1530 2521 1597 2576 1624 2498 1512 2515 1606 2538 1627 2507 1635 2530 1550 2550 1516 2542 1513 2527 1522 2545 1583 2565 1626 2531 1612 2550 1509 2535 1558 2565 1628 2520 1504 2547 1610 2546 1635 2526 1615 2521 1511 2532 1593 2561 1501 2522 1599 2571 1623 2519 1610 2525 1591 2551 1519 2570 1551 2581 1502 2508 1511 2502 1539 2543 1513 2506 1533 2530 1535 2576 1541 2556 1631 2506 1621 2541 1541 2572 1534 2570 1508 2549 1522 2531 1513 2546 1525 2571 1621 2505 1637 2513 1517 2505 1539 2577 1525 2564 1507 2559 1508 2555 1616 2532 1506 2516 1575 2582 1518 2526 1628 2539 1535 2561 1595 2570 1536 2579 1559 2578 1640 2503 1587 2563 1539 2561 1608 2561 1602 2552 1585 2572 1546 2574 1509 2541 1501 2530 1549 2554 1527 2541 1517 2522 1595 2548 1522 2525 1555 2581 1600 2543 1500 2534 1607 2566 1513 2558 1594 2555 1513 2554 1522 2535 1632 2532 1603 2544 1598 2553 1605 2569 1604 2548 1516 2530 1531 2546 1548 2566 1586 2577 1516 2563 1604 2526 1613 2553 1550 2572 1503 2525 1617 2518 1563 2575 1537 2557 1597 2541 1602 2567 1545 2554 1607 2541 1535 2527 1590 2574 1551 2568 1608 2521 1543 2564 1624 2538 1537 2539 1609 2535 1613 2511 1619 2555 1621 2531 1567 2581 1617 2525 1530 2556 1618 2539 1624 2534 1593 2566 1542 2551 1527 2553 1611 2542 1633 2510 1572 2583 1525 2517 1523 2568 1626 2510 1530 2537 1529 2574 1612 2532 1525 2575 1602 2540 1507 2521 1515 2517 1626 2517 1539 2552 1621 2501 1508 2509 1542 2540 1599 2563 1520 2563 1612 2561 1621 2536 1601 2556 1625 2544 1621 2525 1501 2518 1553 2555 1629 2503 1540 2580 1544 2558 1580 2570 1535 2549 1619 2545 1624 2527 1608 2529 1516 2548 1614 2528 1622 2548 1605 2533 1504 2511 1526 2532 1615 2546 1507 2525 1623 2515 1558 2570 1505 2551 1525 2521 1518 2553 1618 2512 1640 2499 1521 2549 1590 2577 1605 2559 1531 2569 1537 2573 1519 2559 1532 2559" fill="none" stroke="none" marker-start="url(#mNc)" marker-mid="url(#mNc)" marker-end="url(#mNc)"/>
<g stroke="#c8102e" stroke-width="4.6" stroke-dasharray="4.4 6.1">
<line x1="1520.5" y1="1826" x2="1520.5" y2="2609.6"/>
<line x1="1610.5" y1="1826" x2="1610.5" y2="2609.6"/>
<line x1="1189.4" y1="2532.3" x2="1898" y2="2532.3"/>
</g>
</svg>
</body></html>
